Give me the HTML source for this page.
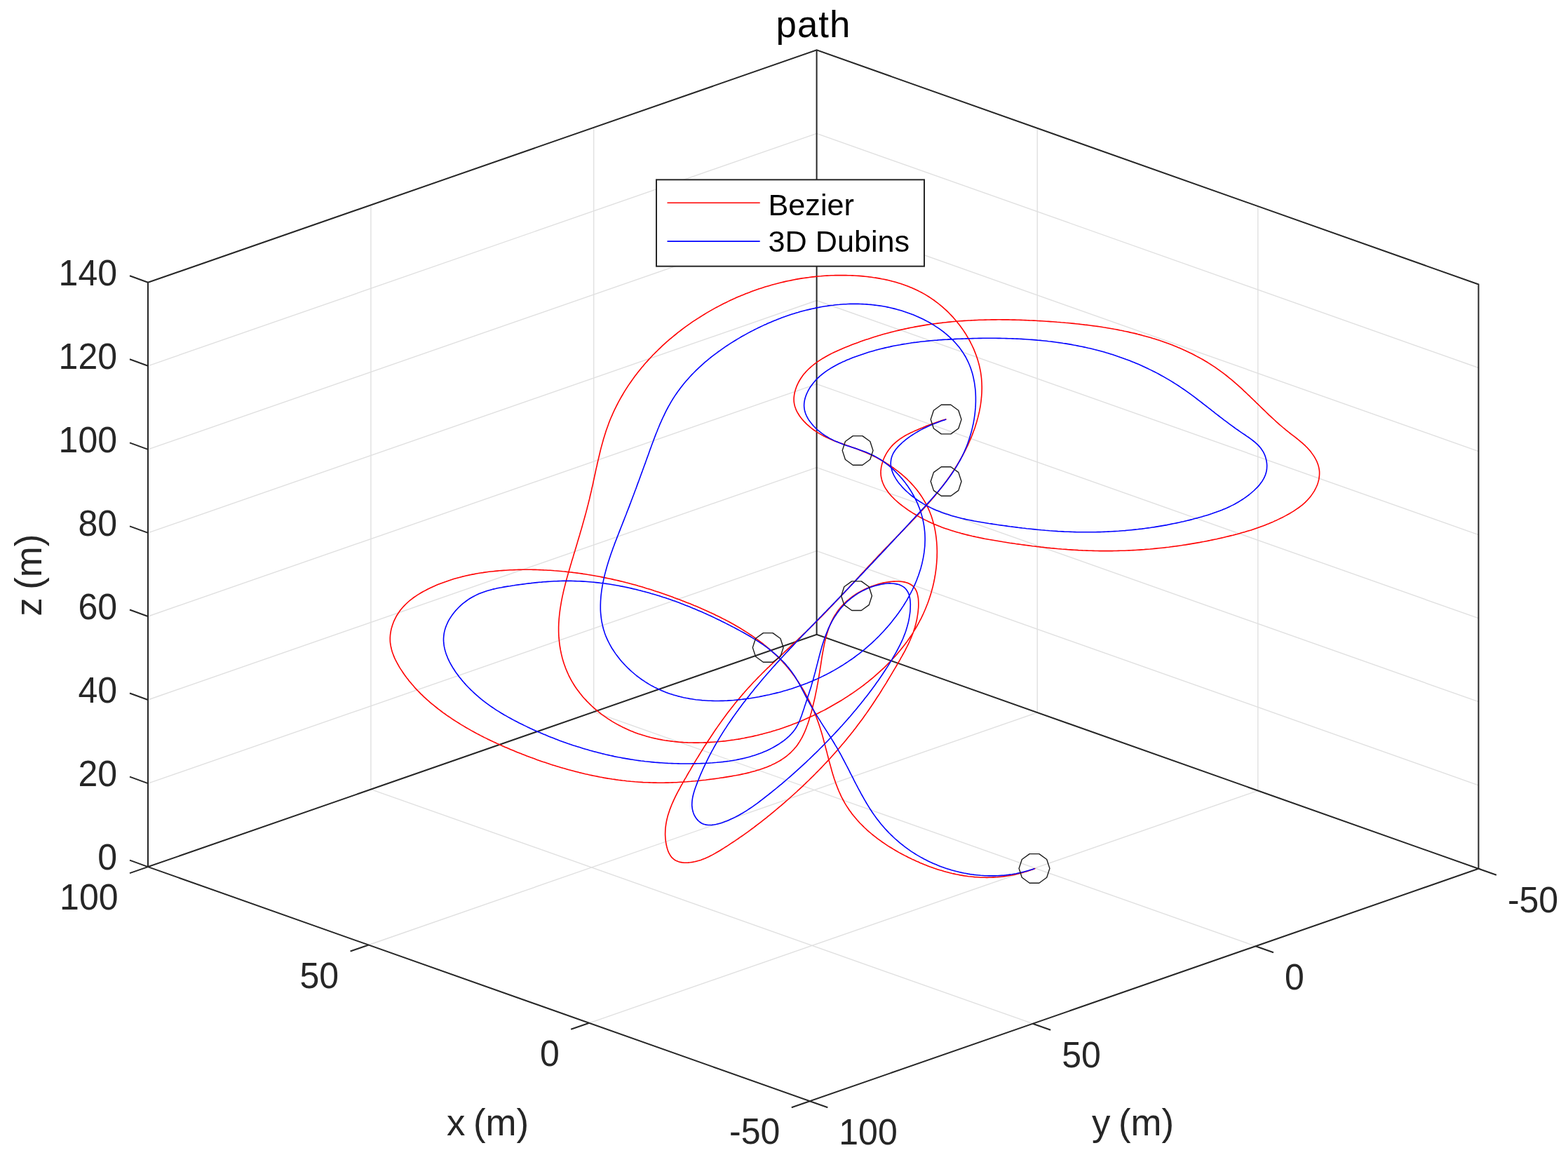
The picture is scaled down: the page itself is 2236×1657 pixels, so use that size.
<!DOCTYPE html>
<html lang="en">
<head>
<meta charset="utf-8">
<title>path</title>
<style>
html,body{margin:0;padding:0;background:#fff;}
body{width:2236px;height:1657px;overflow:hidden;}
svg{display:block;}
text{font-family:"Liberation Sans",Arial,Helvetica,sans-serif;}
.t{font-size:50px;fill:#262626;}
.l{font-size:52.8px;fill:#262626;}
.lg{font-size:43.2px;fill:#000;}
.g{stroke:#e0e0e0;stroke-width:1.4;fill:none;}
.a{stroke:#262626;stroke-width:2;fill:none;stroke-linejoin:miter;}
.r{stroke:#ff0000;stroke-width:1.6;fill:none;stroke-linejoin:round;stroke-linecap:round;}
.b{stroke:#0000ff;stroke-width:1.6;fill:none;stroke-linejoin:round;stroke-linecap:round;}
.m{stroke:#1a1a1a;stroke-width:1.4;fill:none;stroke-linejoin:round;}
</style>
</head>
<body>
<svg xmlns="http://www.w3.org/2000/svg" width="2236" height="1657" viewBox="0 0 2236 1657">
<rect width="2236" height="1657" fill="#fff"/>
<g id="grid"><line class="g" x1="528.9" y1="1125.6" x2="1472.7" y2="1459.7"/><line class="g" x1="528.9" y1="1125.6" x2="528.9" y2="292.3"/><line class="g" x1="846.7" y1="1015.2" x2="1790.5" y2="1349.3"/><line class="g" x1="846.7" y1="1015.2" x2="846.7" y2="181.9"/><line class="g" x1="525.6" y1="1347.5" x2="1479.2" y2="1016.1"/><line class="g" x1="1479.2" y1="1016.1" x2="1479.2" y2="182.8"/><line class="g" x1="840.2" y1="1458.8" x2="1793.8" y2="1127.4"/><line class="g" x1="1793.8" y1="1127.4" x2="1793.8" y2="294.1"/><line class="g" x1="211" y1="1117.1" x2="1164.6" y2="785.7"/><line class="g" x1="1164.6" y1="785.7" x2="2108.4" y2="1119.8"/><line class="g" x1="211" y1="998" x2="1164.6" y2="666.6"/><line class="g" x1="1164.6" y1="666.6" x2="2108.4" y2="1000.7"/><line class="g" x1="211" y1="879" x2="1164.6" y2="547.6"/><line class="g" x1="1164.6" y1="547.6" x2="2108.4" y2="881.7"/><line class="g" x1="211" y1="759.9" x2="1164.6" y2="428.5"/><line class="g" x1="1164.6" y1="428.5" x2="2108.4" y2="762.6"/><line class="g" x1="211" y1="640.9" x2="1164.6" y2="309.5"/><line class="g" x1="1164.6" y1="309.5" x2="2108.4" y2="643.6"/><line class="g" x1="211" y1="521.8" x2="1164.6" y2="190.4"/><line class="g" x1="1164.6" y1="190.4" x2="2108.4" y2="524.5"/></g>
<g id="axes"><polygon class="a" points="211,1236.1 1154.8,1570.2 2108.4,1238.8 1164.6,904.7"/><polyline class="a" points="211,1236.1 211,402.8 1164.6,71.4 2108.4,405.5 2108.4,1238.8"/><line class="a" x1="1164.6" y1="904.7" x2="1164.6" y2="71.4"/><line class="a" x1="211" y1="1236.1" x2="185" y2="1245.1"/><line class="a" x1="525.6" y1="1347.5" x2="499.6" y2="1356.5"/><line class="a" x1="840.2" y1="1458.8" x2="814.2" y2="1467.8"/><line class="a" x1="1154.8" y1="1570.2" x2="1128.8" y2="1579.2"/><line class="a" x1="1154.8" y1="1570.2" x2="1180.3" y2="1579.2"/><line class="a" x1="1472.7" y1="1459.7" x2="1498.2" y2="1468.7"/><line class="a" x1="1790.5" y1="1349.3" x2="1816" y2="1358.3"/><line class="a" x1="2108.4" y1="1238.8" x2="2133.9" y2="1247.8"/><line class="a" x1="211" y1="1236.1" x2="185" y2="1226.6"/><line class="a" x1="211" y1="1117.1" x2="185" y2="1107.6"/><line class="a" x1="211" y1="998" x2="185" y2="988.5"/><line class="a" x1="211" y1="879" x2="185" y2="869.5"/><line class="a" x1="211" y1="759.9" x2="185" y2="750.4"/><line class="a" x1="211" y1="640.9" x2="185" y2="631.4"/><line class="a" x1="211" y1="521.8" x2="185" y2="512.3"/><line class="a" x1="211" y1="402.8" x2="185" y2="393.3"/></g>
<g id="ticklabels"><text class="t" text-anchor="end" transform="translate(167 1240.2) scale(1 1.03)">0</text><text class="t" text-anchor="end" transform="translate(167 1121.2) scale(1 1.03)">20</text><text class="t" text-anchor="end" transform="translate(167 1002.1) scale(1 1.03)">40</text><text class="t" text-anchor="end" transform="translate(167 883.1) scale(1 1.03)">60</text><text class="t" text-anchor="end" transform="translate(167 764) scale(1 1.03)">80</text><text class="t" text-anchor="end" transform="translate(167 645) scale(1 1.03)">100</text><text class="t" text-anchor="end" transform="translate(167 525.9) scale(1 1.03)">120</text><text class="t" text-anchor="end" transform="translate(167 406.9) scale(1 1.03)">140</text><text class="t" text-anchor="end" transform="translate(168.5 1297.2) scale(1 1.03)">100</text><text class="t" text-anchor="end" transform="translate(483.1 1408.6) scale(1 1.03)">50</text><text class="t" text-anchor="end" transform="translate(797.7 1519.9) scale(1 1.03)">0</text><text class="t" text-anchor="end" transform="translate(1112.3 1631.3) scale(1 1.03)">-50</text><text class="t" text-anchor="start" transform="translate(1196.3 1632) scale(1 1.03)">100</text><text class="t" text-anchor="start" transform="translate(1514.2 1521.5) scale(1 1.03)">50</text><text class="t" text-anchor="start" transform="translate(1832 1411.1) scale(1 1.03)">0</text><text class="t" text-anchor="start" transform="translate(2149.9 1300.6) scale(1 1.03)">-50</text></g>
<g id="labels"><text class="l" text-anchor="middle" x="1160" y="52.7" style="fill:#000;letter-spacing:1px">path</text><text class="l" text-anchor="middle" x="695.5" y="1619.4" style="word-spacing:-3px">x (m)</text><text class="l" text-anchor="middle" x="1615.5" y="1619.4" style="word-spacing:-3px">y (m)</text><text class="l" text-anchor="middle" transform="translate(59.3 820.2) rotate(-90)" style="word-spacing:-3px">z (m)</text></g>
<g id="curves"><path class="r" d="M1475.8 1238.6 L1472.8 1239.7 L1469.8 1240.7 L1466.8 1241.8 L1463.9 1242.7 L1460.9 1243.6 L1457.9 1244.5 L1454.9 1245.3 L1451.9 1246.0 L1448.9 1246.7 L1445.9 1247.4 L1443.0 1248.0 L1440.0 1248.5 L1437.0 1249.0 L1434.0 1249.5 L1431.0 1249.9 L1428.1 1250.2 L1425.1 1250.5 L1422.1 1250.8 L1419.2 1251.0 L1416.2 1251.1 L1413.2 1251.3 L1410.3 1251.3 L1407.3 1251.4 L1404.4 1251.3 L1401.4 1251.3 L1398.5 1251.2 L1395.6 1251.0 L1392.6 1250.8 L1389.7 1250.6 L1386.8 1250.3 L1383.8 1250.0 L1380.9 1249.7 L1378.0 1249.3 L1375.1 1248.9 L1372.2 1248.4 L1369.2 1247.9 L1366.3 1247.3 L1363.4 1246.8 L1360.6 1246.1 L1357.7 1245.5 L1354.8 1244.8 L1351.9 1244.0 L1349.0 1243.3 L1346.2 1242.5 L1343.3 1241.6 L1340.4 1240.8 L1337.6 1239.9 L1334.7 1238.9 L1331.9 1238.0 L1329.1 1237.0 L1326.2 1236.0 L1323.4 1234.9 L1320.6 1233.8 L1317.8 1232.7 L1315.0 1231.5 L1312.2 1230.4 L1309.4 1229.1 L1306.6 1227.9 L1303.8 1226.6 L1301.0 1225.4 L1298.3 1224.0 L1295.5 1222.7 L1292.8 1221.3 L1290.0 1219.9 L1287.3 1218.5 L1284.6 1217.0 L1281.9 1215.6 L1279.2 1214.0 L1276.6 1212.5 L1273.9 1210.9 L1271.3 1209.3 L1268.7 1207.7 L1266.1 1206.1 L1263.5 1204.4 L1261.0 1202.7 L1258.5 1201.0 L1256.0 1199.2 L1253.5 1197.4 L1251.0 1195.6 L1248.6 1193.7 L1246.3 1191.9 L1243.9 1190.0 L1241.6 1188.0 L1239.3 1186.1 L1237.0 1184.1 L1234.8 1182.0 L1232.6 1180.0 L1230.5 1177.9 L1228.4 1175.8 L1226.3 1173.7 L1224.3 1171.5 L1222.3 1169.3 L1220.4 1167.1 L1218.5 1164.8 L1216.6 1162.5 L1214.8 1160.2 L1213.1 1157.8 L1211.3 1155.5 L1209.7 1153.0 L1208.1 1150.6 L1206.5 1148.1 L1205.0 1145.6 L1203.6 1143.1 L1202.2 1140.5 L1200.8 1137.9 L1199.5 1135.3 L1198.3 1132.7 L1197.1 1130.0 L1195.9 1127.3 L1194.8 1124.6 L1193.7 1121.8 L1192.7 1119.1 L1191.6 1116.3 L1190.7 1113.5 L1189.7 1110.7 L1188.8 1107.8 L1187.9 1105.0 L1187.0 1102.1 L1186.2 1099.2 L1185.4 1096.3 L1184.6 1093.4 L1183.8 1090.5 L1183.0 1087.6 L1182.2 1084.7 L1181.4 1081.7 L1180.7 1078.8 L1179.9 1075.9 L1179.2 1072.9 L1178.4 1070.0 L1177.6 1067.0 L1176.9 1064.1 L1176.1 1061.1 L1175.3 1058.2 L1174.5 1055.3 L1173.7 1052.3 L1172.9 1049.4 L1172.1 1046.5 L1171.2 1043.6 L1170.3 1040.7 L1169.4 1037.8 L1168.5 1035.0 L1167.5 1032.1 L1166.5 1029.3 L1165.5 1026.4 L1164.4 1023.6 L1163.4 1020.8 L1162.2 1018.1 L1161.1 1015.3 L1160.0 1012.5 L1158.8 1009.8 L1157.5 1007.1 L1156.3 1004.4 L1155.0 1001.7 L1153.7 999.0 L1152.4 996.4 L1151.0 993.8 L1149.6 991.2 L1148.2 988.6 L1146.8 986.0 L1145.3 983.4 L1143.8 980.9 L1142.3 978.4 L1140.7 975.9 L1139.1 973.4 L1137.5 971.0 L1135.8 968.6 L1134.2 966.2 L1132.5 963.8 L1130.7 961.4 L1128.9 959.1 L1127.2 956.8 L1125.3 954.5 L1123.5 952.2 L1121.6 950.0 L1119.7 947.8 L1117.7 945.6 L1115.8 943.5 L1113.8 941.3 L1111.7 939.2 L1109.7 937.1 L1107.6 935.1 L1105.5 933.1 L1103.3 931.1 L1101.1 929.1 L1098.9 927.1 L1096.7 925.2 L1094.5 923.3 L1092.2 921.4 L1089.9 919.6 L1087.6 917.7 L1085.2 915.9 L1082.9 914.1 L1080.5 912.3 L1078.1 910.6 L1075.6 908.9 L1073.2 907.2 L1070.7 905.5 L1068.2 903.8 L1065.7 902.2 L1063.2 900.6 L1060.7 899.0 L1058.1 897.4 L1055.5 895.8 L1052.9 894.3 L1050.3 892.8 L1047.7 891.2 L1045.1 889.8 L1042.4 888.3 L1039.7 886.8 L1037.1 885.4 L1034.4 884.0 L1031.7 882.6 L1028.9 881.2 L1026.2 879.8 L1023.5 878.5 L1020.7 877.2 L1018.0 875.8 L1015.2 874.5 L1012.4 873.3 L1009.7 872.0 L1006.9 870.7 L1004.1 869.5 L1001.3 868.3 L998.5 867.0 L995.7 865.8 L992.9 864.6 L990.0 863.5 L987.2 862.3 L984.4 861.1 L981.6 860.0 L978.7 858.9 L975.9 857.8 L973.1 856.7 L970.2 855.6 L967.4 854.5 L964.6 853.4 L961.7 852.4 L958.9 851.3 L956.0 850.3 L953.2 849.3 L950.3 848.2 L947.5 847.3 L944.6 846.3 L941.8 845.3 L938.9 844.3 L936.1 843.4 L933.2 842.5 L930.4 841.5 L927.5 840.6 L924.6 839.7 L921.8 838.9 L918.9 838.0 L916.0 837.1 L913.1 836.3 L910.3 835.5 L907.4 834.6 L904.5 833.8 L901.6 833.1 L898.7 832.3 L895.9 831.5 L893.0 830.8 L890.1 830.0 L887.2 829.3 L884.3 828.6 L881.4 827.9 L878.5 827.2 L875.6 826.6 L872.7 825.9 L869.8 825.3 L866.9 824.7 L864.0 824.1 L861.1 823.5 L858.1 822.9 L855.2 822.3 L852.3 821.8 L849.4 821.3 L846.5 820.7 L843.5 820.2 L840.6 819.7 L837.7 819.3 L834.7 818.8 L831.8 818.4 L828.9 817.9 L825.9 817.5 L823.0 817.1 L820.0 816.7 L817.1 816.4 L814.1 816.0 L811.2 815.7 L808.2 815.4 L805.2 815.0 L802.3 814.8 L799.3 814.5 L796.4 814.2 L793.4 814.0 L790.4 813.8 L787.4 813.5 L784.5 813.3 L781.5 813.2 L778.5 813.0 L775.5 812.9 L772.5 812.7 L769.5 812.6 L766.5 812.5 L763.5 812.4 L760.5 812.4 L757.5 812.3 L754.5 812.3 L751.5 812.3 L748.5 812.3 L745.5 812.3 L742.5 812.4 L739.5 812.4 L736.5 812.5 L733.4 812.6 L730.4 812.7 L727.4 812.8 L724.4 813.0 L721.4 813.2 L718.3 813.4 L715.3 813.6 L712.3 813.8 L709.3 814.1 L706.3 814.4 L703.3 814.7 L700.3 815.0 L697.3 815.3 L694.3 815.7 L691.3 816.1 L688.3 816.6 L685.3 817.0 L682.3 817.5 L679.3 818.0 L676.3 818.6 L673.4 819.1 L670.4 819.7 L667.5 820.4 L664.5 821.0 L661.6 821.7 L658.7 822.4 L655.8 823.2 L652.9 824.0 L650.0 824.8 L647.1 825.6 L644.2 826.5 L641.3 827.4 L638.5 828.4 L635.6 829.4 L632.8 830.4 L630.0 831.4 L627.2 832.5 L624.4 833.6 L621.6 834.8 L618.9 836.0 L616.1 837.2 L613.4 838.5 L610.7 839.8 L608.0 841.2 L605.3 842.6 L602.7 844.0 L600.1 845.5 L597.5 847.1 L595.0 848.7 L592.5 850.3 L590.0 852.0 L587.6 853.8 L585.3 855.6 L583.0 857.5 L580.8 859.5 L578.7 861.5 L576.6 863.6 L574.6 865.8 L572.7 868.0 L570.8 870.3 L569.1 872.7 L567.4 875.2 L565.8 877.7 L564.4 880.4 L563.0 883.1 L561.7 885.8 L560.6 888.7 L559.6 891.5 L558.7 894.4 L557.9 897.3 L557.3 900.3 L556.8 903.3 L556.5 906.2 L556.3 909.2 L556.3 912.1 L556.4 915.1 L556.7 918.0 L557.2 920.9 L557.8 923.8 L558.5 926.6 L559.3 929.5 L560.3 932.3 L561.4 935.1 L562.5 937.9 L563.8 940.6 L565.2 943.3 L566.6 946.0 L568.1 948.7 L569.6 951.3 L571.2 953.9 L572.9 956.4 L574.6 959.0 L576.3 961.5 L578.1 963.9 L579.9 966.4 L581.8 968.8 L583.6 971.2 L585.6 973.5 L587.5 975.8 L589.5 978.1 L591.5 980.4 L593.5 982.6 L595.6 984.8 L597.7 986.9 L599.8 989.1 L602.0 991.2 L604.2 993.3 L606.4 995.3 L608.6 997.4 L610.9 999.4 L613.1 1001.4 L615.4 1003.3 L617.8 1005.2 L620.1 1007.1 L622.5 1009.0 L624.8 1010.9 L627.2 1012.7 L629.6 1014.5 L632.0 1016.3 L634.5 1018.0 L636.9 1019.8 L639.4 1021.5 L641.9 1023.2 L644.3 1024.8 L646.8 1026.5 L649.3 1028.1 L651.8 1029.7 L654.4 1031.3 L656.9 1032.9 L659.4 1034.4 L662.0 1035.9 L664.6 1037.5 L667.1 1038.9 L669.7 1040.4 L672.3 1041.9 L674.9 1043.3 L677.5 1044.7 L680.1 1046.1 L682.8 1047.5 L685.4 1048.9 L688.0 1050.2 L690.7 1051.6 L693.4 1052.9 L696.0 1054.2 L698.7 1055.5 L701.4 1056.8 L704.1 1058.1 L706.8 1059.3 L709.5 1060.6 L712.2 1061.8 L715.0 1063.0 L717.7 1064.2 L720.4 1065.4 L723.2 1066.6 L725.9 1067.8 L728.7 1069.0 L731.5 1070.1 L734.3 1071.3 L737.0 1072.4 L739.8 1073.5 L742.6 1074.6 L745.4 1075.7 L748.3 1076.8 L751.1 1077.9 L753.9 1079.0 L756.7 1080.1 L759.6 1081.1 L762.4 1082.1 L765.2 1083.2 L768.1 1084.2 L770.9 1085.2 L773.8 1086.2 L776.7 1087.1 L779.5 1088.1 L782.4 1089.0 L785.3 1090.0 L788.2 1090.9 L791.1 1091.8 L794.0 1092.7 L796.9 1093.6 L799.8 1094.4 L802.7 1095.3 L805.6 1096.1 L808.5 1096.9 L811.4 1097.8 L814.3 1098.5 L817.2 1099.3 L820.1 1100.1 L823.1 1100.8 L826.0 1101.6 L828.9 1102.3 L831.9 1103.0 L834.8 1103.7 L837.7 1104.3 L840.7 1105.0 L843.6 1105.6 L846.5 1106.2 L849.5 1106.8 L852.4 1107.4 L855.4 1108.0 L858.3 1108.5 L861.3 1109.1 L864.2 1109.6 L867.2 1110.1 L870.1 1110.5 L873.1 1111.0 L876.0 1111.4 L879.0 1111.9 L881.9 1112.3 L884.9 1112.6 L887.8 1113.0 L890.8 1113.3 L893.7 1113.7 L896.6 1114.0 L899.6 1114.3 L902.5 1114.5 L905.5 1114.8 L908.4 1115.0 L911.4 1115.2 L914.3 1115.4 L917.2 1115.6 L920.2 1115.7 L923.1 1115.8 L926.1 1115.9 L929.0 1116.0 L931.9 1116.1 L934.9 1116.1 L937.8 1116.2 L940.8 1116.2 L943.7 1116.2 L946.7 1116.2 L949.6 1116.1 L952.6 1116.1 L955.5 1116.0 L958.5 1115.9 L961.4 1115.8 L964.4 1115.7 L967.4 1115.5 L970.3 1115.3 L973.3 1115.2 L976.3 1115.0 L979.2 1114.8 L982.2 1114.5 L985.2 1114.3 L988.2 1114.0 L991.2 1113.8 L994.2 1113.5 L997.2 1113.2 L1000.2 1112.8 L1003.2 1112.5 L1006.3 1112.2 L1009.3 1111.8 L1012.3 1111.4 L1015.4 1111.0 L1018.4 1110.6 L1021.5 1110.2 L1024.5 1109.8 L1027.6 1109.3 L1030.7 1108.9 L1033.8 1108.4 L1036.8 1107.9 L1039.9 1107.4 L1043.0 1106.9 L1046.1 1106.3 L1049.2 1105.8 L1052.3 1105.2 L1055.4 1104.6 L1058.5 1103.9 L1061.5 1103.3 L1064.6 1102.6 L1067.6 1101.9 L1070.6 1101.1 L1073.6 1100.3 L1076.6 1099.5 L1079.5 1098.6 L1082.4 1097.7 L1085.3 1096.8 L1088.2 1095.8 L1091.0 1094.7 L1093.8 1093.7 L1096.6 1092.5 L1099.3 1091.4 L1101.9 1090.1 L1104.6 1088.9 L1107.2 1087.5 L1109.7 1086.1 L1112.2 1084.7 L1114.6 1083.2 L1117.0 1081.6 L1119.3 1080.0 L1121.5 1078.3 L1123.7 1076.5 L1125.9 1074.7 L1127.9 1072.8 L1129.9 1070.8 L1131.8 1068.8 L1133.7 1066.6 L1135.5 1064.5 L1137.2 1062.2 L1138.8 1059.8 L1140.4 1057.4 L1141.8 1054.9 L1143.3 1052.4 L1144.6 1049.8 L1145.9 1047.1 L1147.2 1044.4 L1148.3 1041.7 L1149.5 1038.9 L1150.5 1036.1 L1151.6 1033.2 L1152.6 1030.3 L1153.5 1027.4 L1154.4 1024.5 L1155.3 1021.6 L1156.1 1018.6 L1157.0 1015.7 L1157.7 1012.7 L1158.5 1009.8 L1159.2 1006.8 L1159.9 1003.9 L1160.6 1000.9 L1161.3 998.0 L1162.0 995.0 L1162.6 992.1 L1163.2 989.2 L1163.8 986.2 L1164.4 983.3 L1165.0 980.4 L1165.5 977.4 L1166.1 974.5 L1166.6 971.5 L1167.1 968.6 L1167.6 965.6 L1168.1 962.7 L1168.6 959.7 L1169.1 956.8 L1169.5 953.8 L1170.0 950.8 L1170.5 947.8 L1170.9 944.9 L1171.4 941.9 L1171.8 938.9 L1172.3 935.9 L1172.8 933.0 L1173.3 930.0 L1173.9 927.1 L1174.4 924.1 L1175.0 921.2 L1175.6 918.3 L1176.2 915.4 L1176.9 912.5 L1177.6 909.6 L1178.4 906.8 L1179.2 904.0 L1180.1 901.2 L1181.0 898.4 L1181.9 895.7 L1183.0 893.0 L1184.1 890.3 L1185.2 887.7 L1186.4 885.1 L1187.7 882.5 L1189.1 880.0 L1190.5 877.5 L1192.1 875.1 L1193.7 872.7 L1195.4 870.3 L1197.2 868.0 L1199.1 865.7 L1201.0 863.5 L1203.1 861.4 L1205.2 859.3 L1207.5 857.2 L1209.8 855.3 L1212.1 853.3 L1214.6 851.5 L1217.1 849.7 L1219.6 847.9 L1222.2 846.2 L1224.9 844.6 L1227.6 843.1 L1230.4 841.6 L1233.2 840.2 L1236.0 838.9 L1238.9 837.7 L1241.8 836.5 L1244.8 835.4 L1247.8 834.4 L1250.7 833.4 L1253.8 832.6 L1256.8 831.8 L1259.8 831.1 L1262.8 830.5 L1265.9 830.0 L1268.9 829.6 L1272.0 829.3 L1275.0 829.1 L1277.9 829.0 L1280.9 829.0 L1283.7 829.2 L1286.5 829.5 L1289.2 829.9 L1291.7 830.5 L1294.2 831.3 L1296.5 832.3 L1298.6 833.5 L1300.6 834.9 L1302.5 836.4 L1304.1 838.3 L1305.5 840.3 L1306.7 842.6 L1307.7 845.1 L1308.4 847.8 L1309.0 850.6 L1309.5 853.6 L1309.7 856.7 L1309.8 859.9 L1309.8 863.2 L1309.7 866.5 L1309.4 869.8 L1309.1 873.1 L1308.6 876.3 L1308.1 879.5 L1307.6 882.6 L1306.9 885.7 L1306.2 888.7 L1305.4 891.7 L1304.6 894.7 L1303.6 897.6 L1302.7 900.5 L1301.7 903.4 L1300.6 906.2 L1299.5 909.0 L1298.3 911.7 L1297.1 914.5 L1295.9 917.2 L1294.6 919.9 L1293.3 922.5 L1291.9 925.2 L1290.6 927.8 L1289.2 930.4 L1287.7 933.0 L1286.3 935.6 L1284.8 938.2 L1283.4 940.8 L1281.9 943.4 L1280.4 945.9 L1278.9 948.5 L1277.4 951.1 L1275.9 953.6 L1274.4 956.2 L1272.9 958.7 L1271.3 961.3 L1269.8 963.9 L1268.3 966.4 L1266.7 969.0 L1265.2 971.5 L1263.7 974.1 L1262.1 976.6 L1260.5 979.1 L1258.9 981.7 L1257.4 984.2 L1255.8 986.7 L1254.2 989.3 L1252.6 991.8 L1250.9 994.3 L1249.3 996.8 L1247.7 999.3 L1246.0 1001.8 L1244.4 1004.3 L1242.7 1006.8 L1241.0 1009.2 L1239.3 1011.7 L1237.6 1014.2 L1235.9 1016.6 L1234.2 1019.1 L1232.4 1021.5 L1230.7 1024.0 L1228.9 1026.4 L1227.1 1028.8 L1225.3 1031.2 L1223.5 1033.6 L1221.7 1036.0 L1219.9 1038.4 L1218.0 1040.8 L1216.2 1043.2 L1214.3 1045.5 L1212.4 1047.9 L1210.5 1050.2 L1208.6 1052.6 L1206.7 1054.9 L1204.8 1057.2 L1202.9 1059.5 L1200.9 1061.8 L1199.0 1064.1 L1197.0 1066.4 L1195.0 1068.7 L1193.0 1071.0 L1191.0 1073.2 L1189.0 1075.5 L1187.0 1077.7 L1185.0 1080.0 L1183.0 1082.2 L1180.9 1084.4 L1178.9 1086.6 L1176.8 1088.8 L1174.7 1091.0 L1172.6 1093.2 L1170.6 1095.4 L1168.5 1097.5 L1166.4 1099.7 L1164.2 1101.8 L1162.1 1104.0 L1160.0 1106.1 L1157.9 1108.2 L1155.7 1110.3 L1153.6 1112.5 L1151.4 1114.5 L1149.2 1116.6 L1147.1 1118.7 L1144.9 1120.8 L1142.7 1122.8 L1140.5 1124.9 L1138.3 1126.9 L1136.1 1129.0 L1133.9 1131.0 L1131.7 1133.0 L1129.5 1135.0 L1127.2 1137.0 L1125.0 1139.0 L1122.8 1141.0 L1120.5 1142.9 L1118.3 1144.9 L1116.0 1146.8 L1113.7 1148.8 L1111.5 1150.7 L1109.2 1152.6 L1106.9 1154.5 L1104.7 1156.4 L1102.4 1158.3 L1100.1 1160.2 L1097.8 1162.1 L1095.5 1163.9 L1093.2 1165.8 L1090.9 1167.6 L1088.6 1169.4 L1086.2 1171.3 L1083.9 1173.1 L1081.6 1174.9 L1079.2 1176.7 L1076.8 1178.5 L1074.5 1180.3 L1072.1 1182.0 L1069.7 1183.8 L1067.3 1185.6 L1064.9 1187.3 L1062.4 1189.1 L1060.0 1190.8 L1057.6 1192.5 L1055.1 1194.2 L1052.6 1196.0 L1050.1 1197.7 L1047.6 1199.4 L1045.1 1201.0 L1042.5 1202.7 L1040.0 1204.4 L1037.4 1206.1 L1034.8 1207.7 L1032.2 1209.4 L1029.6 1211.0 L1026.9 1212.7 L1024.3 1214.3 L1021.6 1215.8 L1018.9 1217.4 L1016.2 1218.9 L1013.4 1220.3 L1010.6 1221.7 L1007.8 1223.0 L1005.0 1224.2 L1002.2 1225.3 L999.3 1226.4 L996.4 1227.3 L993.5 1228.1 L990.5 1228.8 L987.5 1229.4 L984.5 1229.8 L981.4 1230.1 L978.4 1230.2 L975.5 1230.2 L972.6 1229.9 L969.8 1229.4 L967.1 1228.6 L964.6 1227.6 L962.2 1226.3 L960.1 1224.7 L958.2 1222.9 L956.5 1220.7 L955.0 1218.4 L953.7 1215.8 L952.5 1213.1 L951.6 1210.3 L950.8 1207.3 L950.1 1204.3 L949.6 1201.3 L949.2 1198.3 L948.9 1195.3 L948.7 1192.3 L948.6 1189.3 L948.7 1186.4 L948.8 1183.4 L949.0 1180.5 L949.4 1177.6 L949.8 1174.7 L950.3 1171.9 L950.9 1169.0 L951.6 1166.1 L952.3 1163.3 L953.2 1160.5 L954.1 1157.7 L955.0 1154.9 L956.1 1152.1 L957.2 1149.3 L958.3 1146.5 L959.5 1143.8 L960.7 1141.1 L962.0 1138.3 L963.3 1135.6 L964.7 1132.9 L966.1 1130.2 L967.5 1127.5 L969.0 1124.8 L970.4 1122.1 L971.9 1119.4 L973.4 1116.8 L974.9 1114.1 L976.4 1111.4 L978.0 1108.8 L979.5 1106.1 L981.0 1103.5 L982.5 1100.9 L984.1 1098.3 L985.6 1095.6 L987.1 1093.0 L988.7 1090.4 L990.2 1087.8 L991.8 1085.2 L993.3 1082.6 L994.9 1080.1 L996.5 1077.5 L998.1 1074.9 L999.6 1072.4 L1001.2 1069.8 L1002.8 1067.3 L1004.4 1064.7 L1006.0 1062.2 L1007.7 1059.7 L1009.3 1057.2 L1010.9 1054.7 L1012.6 1052.2 L1014.2 1049.7 L1015.9 1047.2 L1017.5 1044.7 L1019.2 1042.3 L1020.9 1039.8 L1022.6 1037.4 L1024.3 1034.9 L1026.0 1032.5 L1027.7 1030.1 L1029.4 1027.7 L1031.2 1025.3 L1032.9 1022.9 L1034.7 1020.5 L1036.5 1018.1 L1038.2 1015.8 L1040.0 1013.4 L1041.9 1011.1 L1043.7 1008.7 L1045.5 1006.4 L1047.4 1004.1 L1049.2 1001.8 L1051.1 999.5 L1053.0 997.2 L1054.9 994.9 L1056.8 992.7 L1058.7 990.4 L1060.7 988.2 L1062.6 986.0 L1064.6 983.8 L1066.6 981.5 L1068.6 979.4 L1070.6 977.2 L1072.6 975.0 L1074.6 972.8 L1076.7 970.7 L1078.8 968.5 L1080.8 966.4 L1082.9 964.3 L1085.0 962.2 L1087.1 960.0 L1089.3 957.9 L1091.4 955.8 L1093.5 953.7 L1095.7 951.7 L1097.8 949.6 L1100.0 947.5 L1102.2 945.4 L1104.3 943.4 L1106.5 941.3 L1108.7 939.2 L1110.9 937.2 L1113.1 935.1 L1115.3 933.1 L1117.5 931.0 L1119.7 928.9 L1121.9 926.9 L1124.1 924.8 L1126.3 922.8 L1128.5 920.7 L1130.7 918.7 L1132.9 916.6 L1135.1 914.5 L1137.3 912.5 L1139.5 910.4 L1141.7 908.3 L1143.8 906.3 L1146.0 904.2 L1148.2 902.1 L1150.4 900.0 L1152.5 897.9 L1154.7 895.8 L1156.9 893.7 L1159.0 891.6 L1161.1 889.5 L1163.3 887.3 L1165.4 885.2 L1167.5 883.1 L1169.6 880.9 L1171.8 878.8 L1173.9 876.6 L1176.0 874.5 L1178.1 872.3 L1180.1 870.1 L1182.2 868.0 L1184.3 865.8 L1186.4 863.6 L1188.5 861.4 L1190.5 859.2 L1192.6 857.1 L1194.7 854.9 L1196.7 852.7 L1198.8 850.5 L1200.9 848.3 L1202.9 846.1 L1205.0 843.9 L1207.0 841.7 L1209.1 839.5 L1211.1 837.3 L1213.1 835.1 L1215.2 832.9 L1217.2 830.7 L1219.3 828.5 L1221.3 826.3 L1223.3 824.0 L1225.4 821.8 L1227.4 819.6 L1229.5 817.4 L1231.5 815.2 L1233.5 813.0 L1235.6 810.8 L1237.6 808.6 L1239.7 806.4 L1241.7 804.2 L1243.8 802.1 L1245.8 799.9 L1247.8 797.7 L1249.9 795.5 L1251.9 793.3 L1254.0 791.1 L1256.1 789.0 L1258.1 786.8 L1260.2 784.6 L1262.2 782.5 L1264.3 780.3 L1266.4 778.2 L1268.5 776.0 L1270.5 773.9 L1272.6 771.7 L1274.7 769.6 L1276.8 767.5 L1278.9 765.3 L1280.9 763.2 L1283.0 761.1 L1285.1 758.9 L1287.2 756.8 L1289.3 754.7 L1291.3 752.5 L1293.4 750.4 L1295.5 748.3 L1297.6 746.1 L1299.6 744.0 L1301.7 741.8 L1303.7 739.7 L1305.8 737.5 L1307.8 735.3 L1309.9 733.2 L1311.9 731.0 L1313.9 728.8 L1315.9 726.6 L1317.9 724.4 L1319.9 722.2 L1321.9 720.0 L1323.9 717.7 L1325.8 715.5 L1327.8 713.2 L1329.7 711.0 L1331.7 708.7 L1333.6 706.4 L1335.5 704.1 L1337.4 701.8 L1339.2 699.4 L1341.1 697.1 L1342.9 694.7 L1344.8 692.3 L1346.6 689.9 L1348.4 687.5 L1350.2 685.1 L1351.9 682.6 L1353.7 680.2 L1355.4 677.7 L1357.1 675.2 L1358.8 672.6 L1360.5 670.1 L1362.1 667.5 L1363.7 664.9 L1365.3 662.3 L1366.9 659.7 L1368.5 657.0 L1370.0 654.4 L1371.5 651.7 L1373.0 649.0 L1374.4 646.3 L1375.8 643.6 L1377.2 640.8 L1378.5 638.1 L1379.9 635.3 L1381.2 632.5 L1382.4 629.7 L1383.6 626.9 L1384.8 624.1 L1386.0 621.3 L1387.1 618.4 L1388.1 615.6 L1389.2 612.7 L1390.2 609.9 L1391.1 607.0 L1392.0 604.1 L1392.9 601.2 L1393.7 598.3 L1394.5 595.4 L1395.2 592.5 L1395.9 589.6 L1396.6 586.7 L1397.1 583.8 L1397.7 580.8 L1398.2 577.9 L1398.6 575.0 L1399.0 572.1 L1399.3 569.1 L1399.6 566.2 L1399.8 563.3 L1400.0 560.4 L1400.1 557.4 L1400.2 554.5 L1400.2 551.6 L1400.1 548.7 L1400.0 545.7 L1399.8 542.8 L1399.6 539.9 L1399.3 537.0 L1398.9 534.1 L1398.5 531.2 L1398.0 528.4 L1397.4 525.5 L1396.8 522.6 L1396.1 519.8 L1395.3 516.9 L1394.5 514.1 L1393.6 511.3 L1392.7 508.5 L1391.7 505.7 L1390.6 502.9 L1389.5 500.1 L1388.4 497.4 L1387.1 494.7 L1385.9 492.0 L1384.5 489.3 L1383.2 486.6 L1381.7 484.0 L1380.2 481.4 L1378.7 478.8 L1377.1 476.2 L1375.5 473.7 L1373.8 471.1 L1372.1 468.7 L1370.3 466.2 L1368.5 463.8 L1366.6 461.4 L1364.7 459.0 L1362.8 456.7 L1360.8 454.4 L1358.8 452.1 L1356.7 449.9 L1354.6 447.7 L1352.5 445.5 L1350.3 443.4 L1348.1 441.3 L1345.8 439.3 L1343.6 437.3 L1341.2 435.4 L1338.9 433.5 L1336.5 431.6 L1334.1 429.8 L1331.7 428.0 L1329.2 426.3 L1326.7 424.6 L1324.2 423.0 L1321.6 421.4 L1319.1 419.9 L1316.5 418.4 L1313.9 417.0 L1311.2 415.6 L1308.5 414.3 L1305.9 413.0 L1303.1 411.7 L1300.4 410.5 L1297.7 409.4 L1294.9 408.3 L1292.1 407.2 L1289.3 406.2 L1286.5 405.2 L1283.6 404.3 L1280.8 403.4 L1277.9 402.5 L1275.0 401.7 L1272.1 401.0 L1269.2 400.2 L1266.3 399.5 L1263.4 398.9 L1260.4 398.2 L1257.5 397.7 L1254.5 397.1 L1251.6 396.6 L1248.6 396.1 L1245.6 395.7 L1242.6 395.2 L1239.6 394.9 L1236.6 394.5 L1233.6 394.2 L1230.6 393.9 L1227.6 393.6 L1224.5 393.4 L1221.5 393.2 L1218.5 393.0 L1215.5 392.9 L1212.5 392.8 L1209.4 392.7 L1206.4 392.6 L1203.4 392.6 L1200.4 392.5 L1197.4 392.6 L1194.4 392.6 L1191.3 392.6 L1188.3 392.7 L1185.3 392.8 L1182.3 393.0 L1179.3 393.1 L1176.3 393.3 L1173.3 393.5 L1170.4 393.8 L1167.4 394.0 L1164.4 394.3 L1161.4 394.6 L1158.4 394.9 L1155.5 395.3 L1152.5 395.7 L1149.5 396.1 L1146.6 396.5 L1143.6 396.9 L1140.6 397.4 L1137.7 397.9 L1134.8 398.4 L1131.8 399.0 L1128.9 399.6 L1126.0 400.2 L1123.0 400.8 L1120.1 401.4 L1117.2 402.1 L1114.3 402.8 L1111.4 403.5 L1108.5 404.2 L1105.6 405.0 L1102.7 405.7 L1099.8 406.6 L1097.0 407.4 L1094.1 408.2 L1091.2 409.1 L1088.4 410.0 L1085.5 410.9 L1082.7 411.8 L1079.9 412.8 L1077.1 413.8 L1074.2 414.8 L1071.4 415.8 L1068.6 416.9 L1065.8 417.9 L1063.0 419.0 L1060.3 420.2 L1057.5 421.3 L1054.7 422.4 L1052.0 423.6 L1049.2 424.8 L1046.5 426.1 L1043.8 427.3 L1041.0 428.6 L1038.3 429.9 L1035.6 431.2 L1032.9 432.5 L1030.3 433.8 L1027.6 435.2 L1024.9 436.6 L1022.3 438.0 L1019.6 439.4 L1017.0 440.9 L1014.4 442.4 L1011.7 443.9 L1009.1 445.4 L1006.6 446.9 L1004.0 448.5 L1001.4 450.1 L998.8 451.7 L996.3 453.3 L993.8 454.9 L991.2 456.6 L988.7 458.2 L986.2 459.9 L983.8 461.7 L981.3 463.4 L978.8 465.1 L976.4 466.9 L974.0 468.7 L971.6 470.5 L969.2 472.4 L966.8 474.2 L964.5 476.1 L962.1 478.0 L959.8 479.9 L957.5 481.8 L955.2 483.7 L952.9 485.7 L950.6 487.7 L948.4 489.7 L946.2 491.7 L944.0 493.7 L941.8 495.8 L939.6 497.9 L937.5 500.0 L935.3 502.1 L933.2 504.2 L931.1 506.3 L929.1 508.5 L927.0 510.7 L925.0 512.9 L923.0 515.1 L921.0 517.3 L919.0 519.6 L917.1 521.9 L915.2 524.1 L913.3 526.4 L911.4 528.8 L909.6 531.1 L907.7 533.4 L905.9 535.8 L904.1 538.2 L902.4 540.6 L900.7 543.0 L899.0 545.5 L897.3 547.9 L895.6 550.4 L894.0 552.9 L892.4 555.4 L890.8 557.9 L889.3 560.4 L887.8 563.0 L886.3 565.5 L884.8 568.1 L883.4 570.7 L881.9 573.3 L880.6 576.0 L879.2 578.6 L877.9 581.3 L876.6 583.9 L875.3 586.6 L874.1 589.3 L872.9 592.1 L871.7 594.8 L870.5 597.5 L869.4 600.3 L868.3 603.1 L867.3 605.9 L866.3 608.7 L865.3 611.5 L864.3 614.3 L863.4 617.2 L862.5 620.1 L861.6 622.9 L860.7 625.8 L859.9 628.7 L859.1 631.6 L858.3 634.5 L857.5 637.4 L856.7 640.4 L856.0 643.3 L855.3 646.2 L854.6 649.2 L853.9 652.1 L853.2 655.1 L852.5 658.0 L851.8 661.0 L851.2 664.0 L850.5 666.9 L849.8 669.9 L849.2 672.9 L848.6 675.8 L847.9 678.8 L847.3 681.8 L846.6 684.7 L846.0 687.7 L845.4 690.6 L844.7 693.6 L844.0 696.5 L843.4 699.5 L842.7 702.4 L842.0 705.3 L841.3 708.3 L840.7 711.2 L839.9 714.1 L839.2 717.0 L838.5 719.9 L837.7 722.8 L837.0 725.7 L836.2 728.6 L835.5 731.4 L834.7 734.3 L833.9 737.2 L833.1 740.0 L832.3 742.9 L831.5 745.8 L830.7 748.6 L829.9 751.5 L829.1 754.3 L828.2 757.2 L827.4 760.0 L826.6 762.9 L825.7 765.7 L824.9 768.6 L824.0 771.4 L823.2 774.3 L822.3 777.2 L821.5 780.0 L820.6 782.9 L819.8 785.8 L818.9 788.6 L818.0 791.5 L817.2 794.4 L816.3 797.3 L815.4 800.1 L814.6 803.0 L813.7 805.9 L812.9 808.8 L812.0 811.7 L811.2 814.7 L810.3 817.6 L809.5 820.5 L808.7 823.4 L807.9 826.3 L807.1 829.3 L806.3 832.2 L805.6 835.1 L804.8 838.1 L804.1 841.0 L803.4 844.0 L802.8 846.9 L802.1 849.9 L801.5 852.8 L800.9 855.8 L800.4 858.7 L799.9 861.7 L799.4 864.7 L798.9 867.6 L798.5 870.6 L798.1 873.6 L797.8 876.5 L797.5 879.5 L797.2 882.5 L797.0 885.4 L796.8 888.4 L796.7 891.4 L796.6 894.4 L796.6 897.3 L796.6 900.3 L796.7 903.3 L796.8 906.2 L797.0 909.2 L797.3 912.2 L797.6 915.1 L797.9 918.1 L798.3 921.0 L798.8 924.0 L799.3 926.9 L799.9 929.8 L800.5 932.7 L801.2 935.6 L801.9 938.5 L802.7 941.3 L803.6 944.2 L804.5 947.0 L805.5 949.8 L806.5 952.6 L807.6 955.3 L808.8 958.1 L810.0 960.8 L811.2 963.5 L812.6 966.1 L814.0 968.8 L815.4 971.4 L816.9 973.9 L818.5 976.5 L820.1 979.0 L821.8 981.5 L823.6 983.9 L825.4 986.3 L827.2 988.7 L829.1 991.1 L831.0 993.4 L833.0 995.7 L835.1 997.9 L837.1 1000.1 L839.3 1002.3 L841.4 1004.4 L843.6 1006.5 L845.9 1008.6 L848.2 1010.6 L850.5 1012.6 L852.8 1014.5 L855.2 1016.4 L857.6 1018.3 L860.1 1020.1 L862.6 1021.9 L865.1 1023.6 L867.6 1025.3 L870.1 1026.9 L872.7 1028.6 L875.3 1030.1 L877.9 1031.6 L880.6 1033.1 L883.2 1034.5 L885.9 1035.9 L888.6 1037.3 L891.3 1038.5 L894.0 1039.8 L896.7 1041.0 L899.5 1042.2 L902.3 1043.3 L905.0 1044.4 L907.8 1045.4 L910.6 1046.4 L913.4 1047.3 L916.3 1048.2 L919.1 1049.1 L921.9 1049.9 L924.8 1050.7 L927.7 1051.5 L930.5 1052.2 L933.4 1052.9 L936.3 1053.5 L939.2 1054.1 L942.1 1054.6 L945.1 1055.2 L948.0 1055.7 L950.9 1056.1 L953.9 1056.5 L956.8 1056.9 L959.8 1057.3 L962.8 1057.6 L965.7 1057.9 L968.7 1058.2 L971.7 1058.4 L974.7 1058.6 L977.6 1058.7 L980.6 1058.9 L983.6 1059.0 L986.6 1059.0 L989.6 1059.1 L992.6 1059.1 L995.6 1059.1 L998.6 1059.0 L1001.6 1059.0 L1004.6 1058.9 L1007.6 1058.8 L1010.6 1058.6 L1013.6 1058.4 L1016.6 1058.2 L1019.6 1058.0 L1022.6 1057.8 L1025.6 1057.5 L1028.6 1057.2 L1031.6 1056.9 L1034.6 1056.6 L1037.6 1056.2 L1040.5 1055.8 L1043.5 1055.4 L1046.5 1055.0 L1049.4 1054.5 L1052.4 1054.1 L1055.4 1053.6 L1058.3 1053.0 L1061.3 1052.5 L1064.2 1051.9 L1067.2 1051.3 L1070.1 1050.7 L1073.1 1050.1 L1076.0 1049.4 L1078.9 1048.8 L1081.8 1048.1 L1084.8 1047.3 L1087.7 1046.6 L1090.6 1045.8 L1093.5 1045.0 L1096.4 1044.2 L1099.3 1043.4 L1102.1 1042.5 L1105.0 1041.7 L1107.9 1040.8 L1110.8 1039.9 L1113.6 1038.9 L1116.5 1038.0 L1119.3 1037.0 L1122.1 1036.0 L1125.0 1034.9 L1127.8 1033.9 L1130.6 1032.8 L1133.4 1031.8 L1136.2 1030.7 L1139.0 1029.5 L1141.8 1028.4 L1144.6 1027.2 L1147.3 1026.0 L1150.1 1024.8 L1152.8 1023.6 L1155.6 1022.3 L1158.3 1021.1 L1161.0 1019.8 L1163.7 1018.5 L1166.4 1017.2 L1169.1 1015.8 L1171.8 1014.4 L1174.5 1013.1 L1177.2 1011.7 L1179.8 1010.2 L1182.5 1008.8 L1185.1 1007.3 L1187.7 1005.8 L1190.3 1004.3 L1192.9 1002.8 L1195.5 1001.3 L1198.1 999.7 L1200.7 998.2 L1203.2 996.6 L1205.8 994.9 L1208.3 993.3 L1210.8 991.7 L1213.3 990.0 L1215.8 988.3 L1218.3 986.6 L1220.8 984.9 L1223.2 983.1 L1225.7 981.4 L1228.1 979.6 L1230.5 977.8 L1232.9 976.0 L1235.2 974.1 L1237.6 972.3 L1239.9 970.4 L1242.3 968.5 L1244.6 966.6 L1246.9 964.7 L1249.1 962.7 L1251.4 960.7 L1253.6 958.7 L1255.8 956.7 L1258.0 954.7 L1260.2 952.7 L1262.3 950.6 L1264.4 948.5 L1266.5 946.4 L1268.6 944.3 L1270.7 942.1 L1272.7 940.0 L1274.7 937.8 L1276.7 935.6 L1278.6 933.4 L1280.6 931.1 L1282.5 928.8 L1284.4 926.6 L1286.2 924.3 L1288.0 921.9 L1289.9 919.6 L1291.6 917.2 L1293.4 914.9 L1295.1 912.5 L1296.8 910.0 L1298.4 907.6 L1300.1 905.1 L1301.7 902.6 L1303.2 900.1 L1304.8 897.6 L1306.3 895.1 L1307.8 892.5 L1309.2 889.9 L1310.6 887.3 L1312.0 884.7 L1313.4 882.1 L1314.7 879.4 L1316.0 876.7 L1317.2 874.0 L1318.4 871.3 L1319.6 868.5 L1320.7 865.8 L1321.8 863.0 L1322.9 860.2 L1323.9 857.4 L1324.9 854.5 L1325.9 851.6 L1326.8 848.7 L1327.7 845.8 L1328.5 842.9 L1329.3 840.0 L1330.1 837.0 L1330.8 834.0 L1331.5 831.0 L1332.1 828.0 L1332.7 825.0 L1333.2 822.0 L1333.8 818.9 L1334.2 815.9 L1334.6 812.8 L1335.0 809.8 L1335.3 806.7 L1335.6 803.7 L1335.8 800.6 L1336.0 797.5 L1336.2 794.5 L1336.2 791.4 L1336.3 788.3 L1336.3 785.3 L1336.2 782.2 L1336.1 779.2 L1335.9 776.2 L1335.7 773.1 L1335.4 770.1 L1335.1 767.1 L1334.7 764.1 L1334.3 761.2 L1333.8 758.2 L1333.3 755.3 L1332.7 752.3 L1332.0 749.4 L1331.3 746.6 L1330.5 743.7 L1329.7 740.9 L1328.8 738.1 L1327.9 735.3 L1326.8 732.5 L1325.8 729.8 L1324.6 727.1 L1323.4 724.4 L1322.2 721.8 L1320.9 719.2 L1319.5 716.6 L1318.0 714.1 L1316.5 711.6 L1315.0 709.1 L1313.4 706.7 L1311.7 704.3 L1310.0 701.9 L1308.2 699.6 L1306.4 697.3 L1304.5 695.0 L1302.6 692.8 L1300.6 690.6 L1298.6 688.4 L1296.5 686.3 L1294.4 684.2 L1292.3 682.2 L1290.1 680.1 L1287.8 678.2 L1285.6 676.2 L1283.3 674.3 L1280.9 672.4 L1278.5 670.6 L1276.1 668.8 L1273.7 667.0 L1271.2 665.3 L1268.7 663.6 L1266.2 662.0 L1263.6 660.3 L1261.0 658.8 L1258.4 657.2 L1255.8 655.7 L1253.1 654.2 L1250.5 652.8 L1247.8 651.4 L1245.0 650.1 L1242.3 648.8 L1239.6 647.5 L1236.8 646.3 L1234.0 645.1 L1231.2 643.9 L1228.4 642.8 L1225.6 641.7 L1222.8 640.6 L1220.0 639.6 L1217.2 638.6 L1214.3 637.6 L1211.5 636.6 L1208.7 635.6 L1205.9 634.6 L1203.1 633.6 L1200.2 632.6 L1197.4 631.6 L1194.7 630.5 L1191.9 629.5 L1189.1 628.4 L1186.4 627.2 L1183.7 626.1 L1181.0 624.8 L1178.3 623.6 L1175.6 622.3 L1173.0 620.9 L1170.4 619.4 L1167.8 617.9 L1165.3 616.4 L1162.7 614.7 L1160.3 613.0 L1157.8 611.1 L1155.4 609.2 L1153.1 607.2 L1150.7 605.1 L1148.5 602.9 L1146.3 600.6 L1144.2 598.2 L1142.2 595.7 L1140.3 593.2 L1138.6 590.5 L1137.0 587.9 L1135.6 585.1 L1134.5 582.3 L1133.5 579.5 L1132.8 576.6 L1132.3 573.7 L1132.1 570.8 L1132.1 567.9 L1132.4 564.9 L1132.8 562.0 L1133.4 559.1 L1134.2 556.3 L1135.1 553.5 L1136.1 550.7 L1137.3 548.1 L1138.5 545.5 L1139.9 543.0 L1141.4 540.5 L1142.9 538.2 L1144.6 535.8 L1146.3 533.6 L1148.2 531.4 L1150.1 529.3 L1152.1 527.3 L1154.1 525.3 L1156.3 523.3 L1158.5 521.5 L1160.8 519.6 L1163.1 517.8 L1165.5 516.1 L1168.0 514.4 L1170.5 512.8 L1173.0 511.2 L1175.6 509.7 L1178.2 508.2 L1180.9 506.7 L1183.6 505.3 L1186.4 503.9 L1189.2 502.5 L1192.0 501.2 L1194.8 499.9 L1197.6 498.7 L1200.5 497.4 L1203.3 496.2 L1206.2 495.1 L1209.1 493.9 L1212.0 492.7 L1214.9 491.6 L1217.7 490.5 L1220.6 489.4 L1223.5 488.4 L1226.4 487.3 L1229.3 486.3 L1232.1 485.3 L1235.0 484.3 L1237.9 483.4 L1240.8 482.4 L1243.7 481.5 L1246.6 480.6 L1249.4 479.7 L1252.3 478.8 L1255.2 477.9 L1258.1 477.1 L1261.0 476.3 L1263.9 475.5 L1266.8 474.7 L1269.7 473.9 L1272.6 473.2 L1275.5 472.5 L1278.4 471.8 L1281.3 471.1 L1284.2 470.4 L1287.1 469.7 L1290.0 469.1 L1292.9 468.5 L1295.8 467.9 L1298.7 467.3 L1301.7 466.7 L1304.6 466.1 L1307.5 465.6 L1310.4 465.1 L1313.3 464.6 L1316.3 464.1 L1319.2 463.6 L1322.1 463.1 L1325.1 462.7 L1328.0 462.3 L1330.9 461.9 L1333.9 461.5 L1336.8 461.1 L1339.8 460.7 L1342.7 460.4 L1345.7 460.0 L1348.6 459.7 L1351.6 459.4 L1354.5 459.1 L1357.5 458.8 L1360.4 458.5 L1363.4 458.3 L1366.4 458.0 L1369.3 457.8 L1372.3 457.6 L1375.3 457.4 L1378.2 457.2 L1381.2 457.0 L1384.2 456.9 L1387.1 456.7 L1390.1 456.6 L1393.1 456.5 L1396.1 456.3 L1399.1 456.2 L1402.0 456.2 L1405.0 456.1 L1408.0 456.0 L1411.0 456.0 L1414.0 455.9 L1417.0 455.9 L1420.0 455.9 L1423.0 455.8 L1426.0 455.8 L1429.0 455.9 L1432.0 455.9 L1435.0 455.9 L1438.0 455.9 L1441.0 456.0 L1444.0 456.1 L1447.0 456.1 L1450.0 456.2 L1453.0 456.3 L1456.0 456.4 L1459.0 456.5 L1462.0 456.6 L1465.0 456.7 L1468.0 456.9 L1471.1 457.0 L1474.1 457.1 L1477.1 457.3 L1480.1 457.5 L1483.1 457.6 L1486.1 457.8 L1489.2 458.0 L1492.2 458.2 L1495.2 458.4 L1498.2 458.6 L1501.3 458.8 L1504.3 459.0 L1507.3 459.3 L1510.3 459.5 L1513.4 459.8 L1516.4 460.0 L1519.4 460.3 L1522.5 460.5 L1525.5 460.8 L1528.5 461.1 L1531.5 461.4 L1534.6 461.7 L1537.6 462.0 L1540.6 462.4 L1543.6 462.7 L1546.6 463.1 L1549.6 463.4 L1552.7 463.8 L1555.7 464.2 L1558.7 464.6 L1561.7 465.0 L1564.7 465.4 L1567.7 465.8 L1570.7 466.3 L1573.7 466.8 L1576.7 467.2 L1579.6 467.7 L1582.6 468.2 L1585.6 468.7 L1588.6 469.3 L1591.5 469.8 L1594.5 470.4 L1597.4 471.0 L1600.4 471.5 L1603.3 472.2 L1606.3 472.8 L1609.2 473.4 L1612.1 474.1 L1615.0 474.7 L1618.0 475.4 L1620.9 476.1 L1623.8 476.9 L1626.7 477.6 L1629.5 478.4 L1632.4 479.2 L1635.3 480.0 L1638.1 480.8 L1641.0 481.6 L1643.8 482.5 L1646.7 483.3 L1649.5 484.2 L1652.3 485.1 L1655.1 486.1 L1657.9 487.0 L1660.7 488.0 L1663.5 489.0 L1666.3 490.0 L1669.1 491.1 L1671.8 492.1 L1674.6 493.2 L1677.3 494.3 L1680.0 495.5 L1682.7 496.6 L1685.4 497.8 L1688.1 499.0 L1690.8 500.2 L1693.5 501.5 L1696.1 502.7 L1698.8 504.0 L1701.4 505.3 L1704.0 506.7 L1706.6 508.1 L1709.2 509.5 L1711.8 510.9 L1714.4 512.3 L1716.9 513.8 L1719.4 515.3 L1722.0 516.8 L1724.5 518.4 L1727.0 520.0 L1729.5 521.6 L1731.9 523.2 L1734.4 524.9 L1736.8 526.6 L1739.3 528.3 L1741.7 530.1 L1744.1 531.8 L1746.4 533.6 L1748.8 535.5 L1751.1 537.4 L1753.5 539.3 L1755.8 541.2 L1758.1 543.1 L1760.4 545.1 L1762.7 547.1 L1765.0 549.1 L1767.2 551.1 L1769.5 553.2 L1771.7 555.2 L1773.9 557.3 L1776.2 559.4 L1778.4 561.5 L1780.6 563.6 L1782.8 565.7 L1785.0 567.9 L1787.2 570.0 L1789.4 572.1 L1791.6 574.3 L1793.8 576.4 L1796.0 578.5 L1798.2 580.7 L1800.4 582.8 L1802.6 584.9 L1804.8 587.0 L1807.0 589.2 L1809.2 591.3 L1811.4 593.3 L1813.6 595.4 L1815.9 597.5 L1818.1 599.5 L1820.3 601.6 L1822.6 603.6 L1824.8 605.6 L1827.1 607.5 L1829.4 609.5 L1831.7 611.4 L1834.0 613.3 L1836.3 615.1 L1838.6 617.0 L1840.9 618.8 L1843.3 620.6 L1845.6 622.4 L1847.9 624.2 L1850.2 626.0 L1852.5 627.9 L1854.8 629.8 L1857.0 631.7 L1859.2 633.7 L1861.4 635.7 L1863.5 637.8 L1865.6 640.0 L1867.6 642.3 L1869.5 644.6 L1871.3 647.1 L1873.1 649.6 L1874.7 652.2 L1876.2 654.8 L1877.6 657.5 L1878.7 660.3 L1879.7 663.1 L1880.5 665.9 L1881.1 668.8 L1881.5 671.6 L1881.6 674.5 L1881.5 677.4 L1881.2 680.3 L1880.8 683.2 L1880.1 686.1 L1879.3 688.9 L1878.3 691.7 L1877.1 694.5 L1875.8 697.2 L1874.4 699.8 L1872.8 702.4 L1871.1 704.9 L1869.3 707.4 L1867.4 709.7 L1865.4 712.0 L1863.4 714.2 L1861.2 716.3 L1859.0 718.3 L1856.7 720.3 L1854.3 722.1 L1851.9 724.0 L1849.4 725.7 L1846.9 727.4 L1844.3 729.1 L1841.7 730.6 L1839.1 732.2 L1836.4 733.7 L1833.8 735.1 L1831.1 736.6 L1828.4 738.0 L1825.7 739.3 L1823.0 740.6 L1820.3 741.9 L1817.5 743.1 L1814.8 744.4 L1812.0 745.5 L1809.3 746.7 L1806.5 747.8 L1803.7 748.9 L1800.9 750.0 L1798.1 751.0 L1795.3 752.0 L1792.5 753.0 L1789.6 754.0 L1786.8 754.9 L1784.0 755.9 L1781.1 756.7 L1778.3 757.6 L1775.4 758.5 L1772.5 759.3 L1769.7 760.1 L1766.8 760.9 L1763.9 761.7 L1761.0 762.4 L1758.1 763.2 L1755.2 763.9 L1752.3 764.6 L1749.4 765.3 L1746.5 766.0 L1743.6 766.7 L1740.6 767.4 L1737.7 768.0 L1734.8 768.7 L1731.9 769.3 L1728.9 769.9 L1726.0 770.5 L1723.1 771.1 L1720.1 771.7 L1717.2 772.3 L1714.2 772.8 L1711.3 773.4 L1708.3 773.9 L1705.4 774.4 L1702.4 774.9 L1699.4 775.4 L1696.5 775.9 L1693.5 776.4 L1690.5 776.9 L1687.6 777.3 L1684.6 777.8 L1681.6 778.2 L1678.7 778.6 L1675.7 779.0 L1672.7 779.4 L1669.7 779.8 L1666.7 780.2 L1663.8 780.5 L1660.8 780.9 L1657.8 781.2 L1654.8 781.5 L1651.8 781.8 L1648.8 782.1 L1645.8 782.4 L1642.8 782.7 L1639.8 783.0 L1636.8 783.2 L1633.8 783.4 L1630.8 783.7 L1627.8 783.9 L1624.8 784.1 L1621.9 784.3 L1618.9 784.5 L1615.9 784.6 L1612.9 784.8 L1609.9 784.9 L1606.9 785.0 L1603.9 785.2 L1600.9 785.3 L1597.9 785.3 L1594.9 785.4 L1591.9 785.5 L1588.9 785.5 L1585.9 785.6 L1582.9 785.6 L1579.9 785.6 L1576.9 785.6 L1573.9 785.6 L1570.9 785.6 L1567.9 785.6 L1564.9 785.5 L1561.9 785.5 L1558.9 785.4 L1555.9 785.3 L1552.9 785.2 L1549.9 785.1 L1546.9 785.0 L1544.0 784.9 L1541.0 784.7 L1538.0 784.6 L1535.0 784.4 L1532.0 784.3 L1529.0 784.1 L1526.0 783.9 L1523.1 783.7 L1520.1 783.4 L1517.1 783.2 L1514.1 783.0 L1511.1 782.7 L1508.2 782.5 L1505.2 782.2 L1502.2 781.9 L1499.2 781.7 L1496.2 781.4 L1493.3 781.1 L1490.3 780.7 L1487.3 780.4 L1484.3 780.1 L1481.4 779.7 L1478.4 779.4 L1475.4 779.0 L1472.4 778.7 L1469.4 778.3 L1466.5 777.9 L1463.5 777.5 L1460.5 777.1 L1457.5 776.7 L1454.6 776.3 L1451.6 775.9 L1448.6 775.5 L1445.7 775.0 L1442.7 774.6 L1439.7 774.2 L1436.7 773.7 L1433.8 773.2 L1430.8 772.8 L1427.8 772.3 L1424.8 771.8 L1421.9 771.3 L1418.9 770.8 L1415.9 770.3 L1413.0 769.8 L1410.0 769.3 L1407.0 768.7 L1404.1 768.2 L1401.1 767.6 L1398.2 767.0 L1395.2 766.4 L1392.3 765.8 L1389.3 765.1 L1386.4 764.5 L1383.5 763.8 L1380.6 763.1 L1377.7 762.4 L1374.7 761.6 L1371.8 760.9 L1369.0 760.1 L1366.1 759.3 L1363.2 758.4 L1360.3 757.6 L1357.5 756.7 L1354.6 755.8 L1351.8 754.8 L1349.0 753.9 L1346.1 752.9 L1343.3 751.9 L1340.5 750.8 L1337.8 749.7 L1335.0 748.6 L1332.2 747.4 L1329.5 746.2 L1326.7 745.0 L1324.0 743.7 L1321.3 742.4 L1318.6 741.1 L1315.9 739.7 L1313.3 738.3 L1310.6 736.9 L1308.0 735.4 L1305.4 733.8 L1302.8 732.3 L1300.2 730.6 L1297.6 729.0 L1295.1 727.3 L1292.5 725.5 L1290.0 723.7 L1287.5 721.9 L1285.1 720.0 L1282.7 718.1 L1280.3 716.1 L1278.0 714.0 L1275.7 712.0 L1273.6 709.8 L1271.5 707.7 L1269.5 705.4 L1267.6 703.2 L1265.8 700.8 L1264.2 698.5 L1262.6 696.1 L1261.2 693.6 L1260.0 691.1 L1258.9 688.5 L1257.9 685.9 L1257.2 683.2 L1256.6 680.5 L1256.2 677.8 L1256.0 674.9 L1256.0 672.1 L1256.3 669.2 L1256.7 666.2 L1257.3 663.3 L1258.1 660.4 L1259.0 657.4 L1260.1 654.5 L1261.4 651.7 L1262.8 648.8 L1264.3 646.1 L1266.0 643.5 L1267.8 640.9 L1269.7 638.4 L1271.7 636.1 L1273.8 633.9 L1276.0 631.8 L1278.3 629.8 L1280.7 628.0 L1283.1 626.2 L1285.6 624.5 L1288.1 622.9 L1290.7 621.3 L1293.3 619.9 L1296.0 618.5 L1298.7 617.1 L1301.5 615.9 L1304.2 614.6 L1307.0 613.4 L1309.8 612.2 L1312.5 611.0 L1315.3 609.9 L1318.1 608.7 L1320.9 607.6 L1323.6 606.5 L1326.4 605.5 L1329.2 604.4 L1332.0 603.4 L1334.8 602.4 L1337.6 601.4 L1340.4 600.5 L1343.2 599.6 L1346.1 598.7 L1348.9 597.9"/>
<path class="b" d="M1474.9 1238.7 L1472.1 1239.7 L1469.3 1240.6 L1466.4 1241.5 L1463.6 1242.3 L1460.7 1243.1 L1457.8 1243.8 L1454.9 1244.5 L1452.0 1245.1 L1449.1 1245.7 L1446.2 1246.2 L1443.2 1246.7 L1440.3 1247.1 L1437.3 1247.5 L1434.4 1247.9 L1431.4 1248.2 L1428.4 1248.4 L1425.4 1248.6 L1422.4 1248.8 L1419.4 1248.9 L1416.4 1248.9 L1413.4 1248.9 L1410.4 1248.9 L1407.4 1248.8 L1404.4 1248.7 L1401.4 1248.5 L1398.4 1248.3 L1395.4 1248.0 L1392.4 1247.7 L1389.4 1247.4 L1386.4 1247.0 L1383.4 1246.6 L1380.5 1246.1 L1377.5 1245.5 L1374.5 1245.0 L1371.5 1244.4 L1368.6 1243.7 L1365.7 1243.0 L1362.7 1242.3 L1359.8 1241.5 L1356.9 1240.7 L1354.0 1239.8 L1351.1 1238.9 L1348.2 1238.0 L1345.4 1237.0 L1342.5 1236.0 L1339.7 1234.9 L1336.9 1233.8 L1334.1 1232.6 L1331.4 1231.5 L1328.6 1230.2 L1325.9 1229.0 L1323.2 1227.7 L1320.5 1226.3 L1317.8 1225.0 L1315.2 1223.5 L1312.6 1222.1 L1310.0 1220.6 L1307.4 1219.1 L1304.8 1217.5 L1302.3 1215.9 L1299.8 1214.3 L1297.4 1212.6 L1294.9 1210.9 L1292.5 1209.1 L1290.1 1207.4 L1287.8 1205.5 L1285.4 1203.7 L1283.1 1201.8 L1280.9 1199.9 L1278.6 1197.9 L1276.4 1196.0 L1274.2 1194.0 L1272.1 1191.9 L1269.9 1189.8 L1267.8 1187.7 L1265.8 1185.6 L1263.7 1183.4 L1261.7 1181.2 L1259.8 1179.0 L1257.8 1176.7 L1255.9 1174.5 L1254.0 1172.1 L1252.2 1169.8 L1250.4 1167.4 L1248.6 1165.0 L1246.9 1162.6 L1245.2 1160.2 L1243.5 1157.7 L1241.9 1155.2 L1240.2 1152.7 L1238.6 1150.1 L1237.1 1147.6 L1235.5 1145.0 L1234.0 1142.4 L1232.5 1139.8 L1231.0 1137.2 L1229.5 1134.5 L1228.0 1131.9 L1226.6 1129.2 L1225.2 1126.6 L1223.7 1123.9 L1222.3 1121.2 L1220.9 1118.5 L1219.5 1115.8 L1218.1 1113.1 L1216.8 1110.4 L1215.4 1107.7 L1214.0 1105.0 L1212.6 1102.3 L1211.3 1099.6 L1209.9 1096.9 L1208.5 1094.2 L1207.1 1091.5 L1205.7 1088.8 L1204.3 1086.1 L1202.9 1083.5 L1201.5 1080.8 L1200.1 1078.2 L1198.7 1075.5 L1197.2 1072.9 L1195.7 1070.3 L1194.3 1067.7 L1192.8 1065.1 L1191.2 1062.6 L1189.7 1060.0 L1188.2 1057.5 L1186.6 1054.9 L1185.0 1052.4 L1183.5 1049.9 L1181.9 1047.4 L1180.3 1044.9 L1178.7 1042.4 L1177.1 1039.9 L1175.5 1037.4 L1173.9 1034.9 L1172.3 1032.4 L1170.7 1029.9 L1169.2 1027.4 L1167.6 1024.9 L1166.0 1022.4 L1164.4 1019.8 L1162.9 1017.3 L1161.3 1014.7 L1159.8 1012.1 L1158.2 1009.5 L1156.7 1006.9 L1155.2 1004.3 L1153.8 1001.6 L1152.3 999.0 L1150.9 996.3 L1149.4 993.5 L1148.0 990.8 L1146.6 988.1 L1145.2 985.4 L1143.7 982.6 L1142.3 979.9 L1140.9 977.2 L1139.4 974.6 L1137.9 971.9 L1136.3 969.3 L1134.8 966.7 L1133.2 964.1 L1131.5 961.6 L1129.8 959.2 L1128.0 956.8 L1126.2 954.4 L1124.4 952.1 L1122.5 949.9 L1120.6 947.6 L1118.6 945.4 L1116.6 943.3 L1114.5 941.2 L1112.4 939.1 L1110.3 937.1 L1108.1 935.1 L1105.9 933.2 L1103.7 931.3 L1101.4 929.4 L1099.1 927.5 L1096.8 925.7 L1094.5 923.9 L1092.1 922.2 L1089.7 920.4 L1087.2 918.7 L1084.8 917.1 L1082.3 915.4 L1079.8 913.8 L1077.3 912.2 L1074.7 910.6 L1072.2 909.1 L1069.6 907.5 L1067.0 906.0 L1064.4 904.5 L1061.8 903.0 L1059.1 901.5 L1056.5 900.1 L1053.8 898.6 L1051.2 897.2 L1048.5 895.8 L1045.8 894.4 L1043.1 893.0 L1040.5 891.6 L1037.8 890.2 L1035.1 888.9 L1032.4 887.5 L1029.7 886.2 L1026.9 884.8 L1024.2 883.5 L1021.5 882.2 L1018.8 880.9 L1016.0 879.6 L1013.3 878.3 L1010.5 877.1 L1007.8 875.8 L1005.0 874.6 L1002.3 873.3 L999.5 872.1 L996.7 870.9 L993.9 869.7 L991.2 868.6 L988.4 867.4 L985.6 866.2 L982.8 865.1 L980.0 864.0 L977.2 862.9 L974.4 861.8 L971.5 860.7 L968.7 859.6 L965.9 858.6 L963.1 857.6 L960.2 856.5 L957.4 855.5 L954.6 854.5 L951.7 853.6 L948.9 852.6 L946.0 851.7 L943.1 850.7 L940.3 849.8 L937.4 848.9 L934.5 848.1 L931.7 847.2 L928.8 846.4 L925.9 845.5 L923.0 844.7 L920.1 843.9 L917.2 843.2 L914.3 842.4 L911.4 841.7 L908.5 840.9 L905.6 840.2 L902.7 839.6 L899.8 838.9 L896.9 838.2 L894.0 837.6 L891.1 837.0 L888.1 836.4 L885.2 835.9 L882.3 835.3 L879.3 834.8 L876.4 834.3 L873.5 833.8 L870.5 833.3 L867.6 832.8 L864.6 832.4 L861.7 832.0 L858.7 831.6 L855.8 831.3 L852.8 830.9 L849.8 830.6 L846.9 830.3 L843.9 830.0 L840.9 829.7 L838.0 829.5 L835.0 829.3 L832.0 829.1 L829.0 828.9 L826.1 828.8 L823.1 828.7 L820.1 828.6 L817.1 828.5 L814.1 828.4 L811.1 828.4 L808.1 828.4 L805.2 828.4 L802.2 828.4 L799.2 828.5 L796.2 828.6 L793.2 828.7 L790.2 828.8 L787.2 829.0 L784.2 829.2 L781.2 829.4 L778.2 829.6 L775.2 829.8 L772.1 830.1 L769.1 830.3 L766.1 830.6 L763.1 830.9 L760.1 831.2 L757.1 831.6 L754.1 831.9 L751.1 832.3 L748.1 832.7 L745.1 833.1 L742.1 833.5 L739.1 833.9 L736.1 834.3 L733.1 834.8 L730.1 835.2 L727.1 835.7 L724.1 836.1 L721.1 836.6 L718.1 837.1 L715.2 837.7 L712.2 838.2 L709.2 838.8 L706.3 839.5 L703.4 840.1 L700.4 840.9 L697.5 841.7 L694.7 842.5 L691.8 843.4 L689.0 844.4 L686.2 845.4 L683.4 846.6 L680.7 847.8 L678.0 849.1 L675.3 850.5 L672.6 852.0 L670.0 853.5 L667.5 855.2 L665.0 857.0 L662.5 858.8 L660.1 860.7 L657.8 862.7 L655.5 864.8 L653.3 867.0 L651.2 869.2 L649.2 871.4 L647.3 873.8 L645.4 876.2 L643.7 878.6 L642.1 881.1 L640.5 883.6 L639.1 886.2 L637.9 888.8 L636.7 891.5 L635.7 894.1 L634.8 896.8 L634.0 899.6 L633.4 902.3 L633.0 905.1 L632.7 907.9 L632.5 910.7 L632.5 913.4 L632.7 916.2 L633.0 919.1 L633.4 921.9 L634.0 924.7 L634.7 927.5 L635.5 930.3 L636.4 933.1 L637.5 935.8 L638.6 938.6 L639.9 941.4 L641.2 944.1 L642.7 946.8 L644.2 949.5 L645.8 952.2 L647.5 954.8 L649.2 957.5 L651.0 960.1 L652.9 962.6 L654.8 965.2 L656.8 967.6 L658.8 970.1 L660.9 972.5 L663.0 974.9 L665.1 977.2 L667.3 979.5 L669.5 981.7 L671.6 983.9 L673.9 986.0 L676.1 988.1 L678.3 990.2 L680.6 992.2 L682.9 994.2 L685.2 996.1 L687.5 998.0 L689.9 999.8 L692.2 1001.6 L694.6 1003.4 L697.0 1005.1 L699.4 1006.8 L701.8 1008.5 L704.3 1010.2 L706.7 1011.8 L709.2 1013.4 L711.7 1014.9 L714.2 1016.5 L716.7 1018.0 L719.2 1019.5 L721.8 1020.9 L724.3 1022.4 L726.9 1023.8 L729.5 1025.2 L732.1 1026.6 L734.7 1028.0 L737.3 1029.3 L739.9 1030.7 L742.6 1032.0 L745.2 1033.3 L747.9 1034.6 L750.6 1035.9 L753.3 1037.2 L756.0 1038.5 L758.7 1039.7 L761.4 1041.0 L764.2 1042.2 L766.9 1043.4 L769.6 1044.6 L772.4 1045.8 L775.2 1047.0 L778.0 1048.1 L780.7 1049.3 L783.5 1050.4 L786.3 1051.5 L789.1 1052.6 L792.0 1053.7 L794.8 1054.8 L797.6 1055.9 L800.5 1056.9 L803.3 1057.9 L806.2 1059.0 L809.0 1060.0 L811.9 1060.9 L814.8 1061.9 L817.6 1062.9 L820.5 1063.8 L823.4 1064.7 L826.3 1065.6 L829.2 1066.5 L832.1 1067.4 L835.0 1068.3 L837.9 1069.1 L840.8 1070.0 L843.7 1070.8 L846.6 1071.6 L849.6 1072.3 L852.5 1073.1 L855.4 1073.8 L858.3 1074.6 L861.3 1075.3 L864.2 1076.0 L867.1 1076.6 L870.0 1077.3 L873.0 1077.9 L875.9 1078.6 L878.8 1079.2 L881.8 1079.8 L884.7 1080.3 L887.7 1080.9 L890.6 1081.4 L893.5 1081.9 L896.5 1082.4 L899.4 1082.9 L902.3 1083.3 L905.3 1083.8 L908.2 1084.2 L911.1 1084.6 L914.1 1085.0 L917.0 1085.3 L919.9 1085.7 L922.9 1086.0 L925.8 1086.3 L928.7 1086.6 L931.7 1086.9 L934.6 1087.2 L937.6 1087.4 L940.5 1087.6 L943.5 1087.8 L946.4 1088.0 L949.4 1088.2 L952.4 1088.4 L955.3 1088.5 L958.3 1088.6 L961.3 1088.7 L964.3 1088.8 L967.2 1088.9 L970.2 1089.0 L973.2 1089.0 L976.2 1089.0 L979.2 1089.0 L982.3 1089.0 L985.3 1089.0 L988.3 1088.9 L991.3 1088.9 L994.4 1088.8 L997.4 1088.7 L1000.5 1088.6 L1003.5 1088.5 L1006.6 1088.3 L1009.7 1088.2 L1012.7 1088.0 L1015.8 1087.8 L1018.9 1087.5 L1021.9 1087.3 L1025.0 1087.0 L1028.0 1086.7 L1031.1 1086.4 L1034.1 1086.0 L1037.2 1085.6 L1040.2 1085.2 L1043.2 1084.7 L1046.2 1084.2 L1049.2 1083.7 L1052.2 1083.1 L1055.2 1082.5 L1058.2 1081.9 L1061.1 1081.2 L1064.0 1080.5 L1067.0 1079.8 L1069.8 1079.0 L1072.7 1078.1 L1075.6 1077.2 L1078.4 1076.3 L1081.2 1075.3 L1084.0 1074.3 L1086.8 1073.2 L1089.5 1072.1 L1092.2 1071.0 L1094.9 1069.7 L1097.5 1068.5 L1100.1 1067.1 L1102.7 1065.8 L1105.3 1064.3 L1107.8 1062.8 L1110.3 1061.3 L1112.7 1059.7 L1115.1 1058.0 L1117.5 1056.3 L1119.8 1054.5 L1122.1 1052.6 L1124.3 1050.7 L1126.4 1048.6 L1128.4 1046.5 L1130.3 1044.4 L1132.2 1042.1 L1133.9 1039.7 L1135.5 1037.3 L1136.9 1034.7 L1138.3 1032.1 L1139.5 1029.4 L1140.7 1026.7 L1141.8 1023.8 L1142.9 1021.0 L1143.9 1018.1 L1144.8 1015.2 L1145.8 1012.4 L1146.8 1009.5 L1147.7 1006.6 L1148.7 1003.8 L1149.6 1000.9 L1150.6 998.0 L1151.5 995.2 L1152.4 992.3 L1153.4 989.5 L1154.3 986.6 L1155.2 983.8 L1156.1 980.9 L1157.0 978.0 L1157.8 975.1 L1158.7 972.3 L1159.5 969.4 L1160.3 966.5 L1161.1 963.5 L1161.9 960.6 L1162.7 957.7 L1163.4 954.8 L1164.2 951.8 L1164.9 948.9 L1165.7 945.9 L1166.4 943.0 L1167.2 940.0 L1167.9 937.1 L1168.7 934.2 L1169.5 931.2 L1170.3 928.3 L1171.1 925.4 L1171.9 922.5 L1172.8 919.6 L1173.7 916.8 L1174.6 913.9 L1175.6 911.1 L1176.6 908.3 L1177.6 905.5 L1178.7 902.7 L1179.8 900.0 L1180.9 897.2 L1182.1 894.6 L1183.4 891.9 L1184.7 889.3 L1186.1 886.7 L1187.5 884.1 L1189.0 881.6 L1190.6 879.1 L1192.2 876.7 L1193.8 874.3 L1195.6 871.9 L1197.3 869.6 L1199.2 867.3 L1201.1 865.1 L1203.1 862.9 L1205.1 860.8 L1207.2 858.7 L1209.4 856.7 L1211.7 854.8 L1214.0 852.9 L1216.4 851.1 L1218.8 849.3 L1221.4 847.6 L1224.0 845.9 L1226.7 844.4 L1229.4 842.9 L1232.2 841.5 L1235.1 840.1 L1238.1 838.8 L1241.2 837.6 L1244.2 836.5 L1247.3 835.5 L1250.4 834.7 L1253.6 833.9 L1256.7 833.2 L1259.8 832.7 L1262.8 832.3 L1265.8 832.0 L1268.8 831.9 L1271.7 832.0 L1274.5 832.2 L1277.2 832.6 L1279.7 833.1 L1282.2 833.8 L1284.5 834.8 L1286.7 835.9 L1288.7 837.2 L1290.6 838.7 L1292.2 840.5 L1293.6 842.5 L1294.9 844.7 L1295.9 847.1 L1296.7 849.7 L1297.4 852.5 L1297.8 855.4 L1298.1 858.5 L1298.3 861.7 L1298.2 864.9 L1298.1 868.2 L1297.9 871.5 L1297.5 874.8 L1297.0 878.1 L1296.5 881.4 L1295.9 884.6 L1295.2 887.7 L1294.4 890.8 L1293.6 893.8 L1292.7 896.8 L1291.8 899.7 L1290.8 902.6 L1289.7 905.4 L1288.6 908.2 L1287.5 911.0 L1286.3 913.7 L1285.0 916.4 L1283.7 919.1 L1282.4 921.7 L1281.0 924.4 L1279.6 927.0 L1278.2 929.6 L1276.8 932.1 L1275.3 934.7 L1273.8 937.2 L1272.3 939.8 L1270.8 942.3 L1269.2 944.8 L1267.7 947.3 L1266.1 949.9 L1264.5 952.4 L1262.9 954.8 L1261.3 957.3 L1259.6 959.8 L1258.0 962.3 L1256.3 964.8 L1254.6 967.2 L1252.9 969.7 L1251.2 972.1 L1249.4 974.5 L1247.7 977.0 L1245.9 979.4 L1244.2 981.8 L1242.4 984.2 L1240.6 986.6 L1238.8 989.0 L1236.9 991.4 L1235.1 993.8 L1233.2 996.1 L1231.4 998.5 L1229.5 1000.8 L1227.6 1003.2 L1225.7 1005.5 L1223.8 1007.8 L1221.9 1010.2 L1220.0 1012.5 L1218.0 1014.8 L1216.1 1017.1 L1214.1 1019.4 L1212.2 1021.7 L1210.2 1023.9 L1208.2 1026.2 L1206.2 1028.5 L1204.2 1030.7 L1202.2 1033.0 L1200.2 1035.2 L1198.1 1037.4 L1196.1 1039.7 L1194.1 1041.9 L1192.0 1044.1 L1190.0 1046.3 L1187.9 1048.5 L1185.8 1050.6 L1183.8 1052.8 L1181.7 1055.0 L1179.6 1057.2 L1177.5 1059.3 L1175.4 1061.5 L1173.3 1063.6 L1171.2 1065.7 L1169.1 1067.8 L1167.0 1070.0 L1164.8 1072.1 L1162.7 1074.2 L1160.6 1076.2 L1158.4 1078.3 L1156.3 1080.4 L1154.1 1082.5 L1151.9 1084.5 L1149.8 1086.6 L1147.6 1088.6 L1145.4 1090.6 L1143.2 1092.7 L1141.0 1094.7 L1138.8 1096.7 L1136.6 1098.7 L1134.4 1100.7 L1132.2 1102.7 L1129.9 1104.7 L1127.7 1106.6 L1125.4 1108.6 L1123.2 1110.5 L1120.9 1112.5 L1118.7 1114.4 L1116.4 1116.3 L1114.1 1118.3 L1111.8 1120.2 L1109.5 1122.1 L1107.2 1124.0 L1104.9 1125.9 L1102.6 1127.7 L1100.3 1129.6 L1097.9 1131.5 L1095.6 1133.3 L1093.2 1135.2 L1090.9 1137.0 L1088.5 1138.8 L1086.2 1140.7 L1083.8 1142.5 L1081.4 1144.3 L1079.0 1146.1 L1076.5 1147.8 L1074.1 1149.6 L1071.6 1151.3 L1069.1 1153.0 L1066.6 1154.7 L1064.1 1156.3 L1061.5 1157.9 L1058.9 1159.5 L1056.2 1161.0 L1053.6 1162.5 L1050.8 1164.0 L1048.1 1165.4 L1045.3 1166.8 L1042.4 1168.1 L1039.5 1169.4 L1036.5 1170.7 L1033.5 1171.8 L1030.5 1172.9 L1027.4 1173.9 L1024.4 1174.7 L1021.3 1175.5 L1018.4 1176.0 L1015.4 1176.4 L1012.6 1176.5 L1009.8 1176.5 L1007.1 1176.1 L1004.5 1175.5 L1002.1 1174.7 L999.8 1173.5 L997.7 1172.0 L995.8 1170.4 L994.0 1168.4 L992.4 1166.3 L991.0 1164.0 L989.7 1161.6 L988.7 1159.0 L987.9 1156.3 L987.3 1153.5 L986.9 1150.7 L986.7 1147.9 L986.8 1145.0 L987.0 1142.1 L987.4 1139.1 L987.9 1136.2 L988.6 1133.2 L989.4 1130.2 L990.3 1127.2 L991.3 1124.3 L992.4 1121.3 L993.5 1118.4 L994.6 1115.4 L995.8 1112.5 L996.9 1109.6 L998.1 1106.7 L999.3 1103.9 L1000.6 1101.0 L1001.8 1098.2 L1003.1 1095.4 L1004.4 1092.6 L1005.7 1089.8 L1007.0 1087.1 L1008.4 1084.3 L1009.7 1081.6 L1011.1 1078.9 L1012.5 1076.2 L1013.9 1073.6 L1015.3 1070.9 L1016.8 1068.3 L1018.2 1065.6 L1019.7 1063.0 L1021.2 1060.4 L1022.7 1057.8 L1024.2 1055.3 L1025.8 1052.7 L1027.3 1050.2 L1028.9 1047.6 L1030.4 1045.1 L1032.0 1042.6 L1033.6 1040.1 L1035.3 1037.6 L1036.9 1035.1 L1038.5 1032.6 L1040.2 1030.2 L1041.9 1027.7 L1043.6 1025.3 L1045.3 1022.8 L1047.0 1020.4 L1048.7 1018.0 L1050.4 1015.6 L1052.2 1013.2 L1053.9 1010.8 L1055.7 1008.4 L1057.5 1006.0 L1059.3 1003.6 L1061.1 1001.2 L1062.9 998.9 L1064.7 996.5 L1066.5 994.2 L1068.4 991.9 L1070.2 989.5 L1072.1 987.2 L1074.0 984.9 L1075.8 982.6 L1077.7 980.3 L1079.6 978.0 L1081.5 975.7 L1083.4 973.4 L1085.4 971.1 L1087.3 968.8 L1089.2 966.5 L1091.2 964.3 L1093.1 962.0 L1095.1 959.8 L1097.1 957.5 L1099.1 955.3 L1101.0 953.0 L1103.0 950.8 L1105.0 948.6 L1107.0 946.3 L1109.0 944.1 L1111.1 941.9 L1113.1 939.7 L1115.1 937.5 L1117.1 935.2 L1119.2 933.0 L1121.2 930.8 L1123.3 928.6 L1125.3 926.4 L1127.4 924.3 L1129.4 922.1 L1131.5 919.9 L1133.5 917.7 L1135.6 915.5 L1137.7 913.3 L1139.8 911.2 L1141.9 909.0 L1143.9 906.8 L1146.0 904.6 L1148.1 902.5 L1150.2 900.3 L1152.3 898.1 L1154.4 896.0 L1156.5 893.8 L1158.6 891.6 L1160.7 889.5 L1162.8 887.3 L1164.9 885.1 L1167.0 883.0 L1169.1 880.8 L1171.2 878.7 L1173.3 876.5 L1175.4 874.3 L1177.5 872.2 L1179.6 870.0 L1181.7 867.8 L1183.8 865.7 L1185.9 863.5 L1188.0 861.4 L1190.1 859.2 L1192.2 857.0 L1194.3 854.9 L1196.4 852.7 L1198.5 850.5 L1200.6 848.4 L1202.7 846.2 L1204.8 844.0 L1206.9 841.8 L1209.0 839.7 L1211.1 837.5 L1213.2 835.3 L1215.2 833.1 L1217.3 831.0 L1219.4 828.8 L1221.5 826.6 L1223.6 824.4 L1225.6 822.2 L1227.7 820.1 L1229.8 817.9 L1231.9 815.7 L1233.9 813.5 L1236.0 811.3 L1238.1 809.1 L1240.1 807.0 L1242.2 804.8 L1244.3 802.6 L1246.3 800.4 L1248.4 798.2 L1250.4 796.0 L1252.5 793.8 L1254.5 791.6 L1256.6 789.5 L1258.7 787.3 L1260.7 785.1 L1262.8 782.9 L1264.8 780.7 L1266.9 778.5 L1268.9 776.3 L1270.9 774.1 L1273.0 771.9 L1275.0 769.7 L1277.1 767.5 L1279.1 765.3 L1281.1 763.2 L1283.2 761.0 L1285.2 758.8 L1287.3 756.6 L1289.3 754.4 L1291.3 752.2 L1293.3 750.0 L1295.4 747.8 L1297.4 745.6 L1299.4 743.4 L1301.4 741.2 L1303.5 739.0 L1305.5 736.8 L1307.5 734.6 L1309.5 732.5 L1311.5 730.3 L1313.5 728.1 L1315.6 725.9 L1317.6 723.7 L1319.6 721.5 L1321.6 719.3 L1323.6 717.1 L1325.6 714.9 L1327.5 712.7 L1329.5 710.5 L1331.5 708.2 L1333.4 706.0 L1335.3 703.8 L1337.3 701.5 L1339.2 699.2 L1341.1 697.0 L1342.9 694.7 L1344.8 692.4 L1346.6 690.1 L1348.4 687.7 L1350.2 685.4 L1352.0 683.0 L1353.7 680.6 L1355.4 678.2 L1357.1 675.8 L1358.8 673.3 L1360.4 670.9 L1362.0 668.4 L1363.6 665.8 L1365.1 663.3 L1366.6 660.7 L1368.1 658.1 L1369.5 655.5 L1370.9 652.8 L1372.3 650.1 L1373.6 647.4 L1374.9 644.7 L1376.1 641.9 L1377.3 639.1 L1378.5 636.2 L1379.6 633.4 L1380.6 630.5 L1381.6 627.5 L1382.6 624.6 L1383.5 621.6 L1384.4 618.6 L1385.2 615.6 L1386.0 612.6 L1386.7 609.6 L1387.4 606.5 L1388.1 603.5 L1388.6 600.4 L1389.2 597.3 L1389.6 594.2 L1390.1 591.1 L1390.4 588.1 L1390.7 585.0 L1391.0 581.9 L1391.2 578.8 L1391.3 575.7 L1391.4 572.6 L1391.4 569.5 L1391.4 566.5 L1391.3 563.4 L1391.2 560.4 L1391.0 557.3 L1390.7 554.3 L1390.3 551.3 L1389.9 548.4 L1389.5 545.4 L1388.9 542.5 L1388.3 539.5 L1387.7 536.7 L1387.0 533.8 L1386.2 531.0 L1385.3 528.2 L1384.4 525.4 L1383.4 522.7 L1382.3 520.0 L1381.1 517.3 L1379.9 514.7 L1378.6 512.1 L1377.3 509.5 L1375.8 507.0 L1374.3 504.6 L1372.8 502.2 L1371.1 499.8 L1369.4 497.4 L1367.7 495.1 L1365.9 492.9 L1364.0 490.7 L1362.0 488.5 L1360.1 486.4 L1358.0 484.3 L1355.9 482.3 L1353.8 480.3 L1351.6 478.3 L1349.3 476.4 L1347.0 474.5 L1344.7 472.7 L1342.3 470.9 L1339.9 469.1 L1337.4 467.4 L1334.9 465.8 L1332.4 464.1 L1329.8 462.6 L1327.3 461.0 L1324.6 459.5 L1322.0 458.1 L1319.3 456.7 L1316.6 455.3 L1313.9 454.0 L1311.1 452.7 L1308.3 451.4 L1305.5 450.3 L1302.7 449.1 L1299.9 448.0 L1297.1 446.9 L1294.2 445.9 L1291.4 444.9 L1288.5 444.0 L1285.7 443.1 L1282.8 442.2 L1279.9 441.4 L1277.0 440.6 L1274.1 439.9 L1271.2 439.2 L1268.3 438.5 L1265.3 437.9 L1262.4 437.3 L1259.5 436.8 L1256.6 436.3 L1253.6 435.9 L1250.7 435.5 L1247.7 435.1 L1244.8 434.7 L1241.8 434.4 L1238.8 434.2 L1235.9 433.9 L1232.9 433.8 L1229.9 433.6 L1227.0 433.5 L1224.0 433.4 L1221.0 433.4 L1218.0 433.4 L1215.1 433.4 L1212.1 433.4 L1209.1 433.5 L1206.1 433.7 L1203.1 433.8 L1200.1 434.0 L1197.2 434.3 L1194.2 434.5 L1191.2 434.8 L1188.2 435.2 L1185.2 435.5 L1182.3 435.9 L1179.3 436.4 L1176.3 436.8 L1173.3 437.3 L1170.4 437.8 L1167.4 438.4 L1164.5 438.9 L1161.5 439.6 L1158.5 440.2 L1155.6 440.9 L1152.6 441.6 L1149.7 442.3 L1146.8 443.0 L1143.8 443.8 L1140.9 444.6 L1138.0 445.5 L1135.1 446.3 L1132.2 447.2 L1129.3 448.1 L1126.4 449.1 L1123.5 450.1 L1120.6 451.1 L1117.8 452.1 L1114.9 453.1 L1112.0 454.2 L1109.2 455.3 L1106.4 456.4 L1103.5 457.5 L1100.7 458.7 L1097.9 459.9 L1095.1 461.1 L1092.3 462.4 L1089.5 463.6 L1086.8 464.9 L1084.0 466.2 L1081.3 467.5 L1078.5 468.9 L1075.8 470.2 L1073.1 471.6 L1070.4 473.0 L1067.7 474.4 L1065.1 475.9 L1062.4 477.4 L1059.8 478.8 L1057.1 480.3 L1054.5 481.9 L1051.9 483.4 L1049.3 485.0 L1046.8 486.5 L1044.2 488.1 L1041.7 489.7 L1039.1 491.4 L1036.6 493.0 L1034.1 494.7 L1031.7 496.4 L1029.2 498.1 L1026.8 499.8 L1024.4 501.5 L1022.0 503.3 L1019.6 505.1 L1017.2 506.9 L1014.9 508.7 L1012.6 510.5 L1010.3 512.4 L1008.0 514.3 L1005.7 516.2 L1003.5 518.1 L1001.3 520.1 L999.1 522.1 L996.9 524.1 L994.8 526.1 L992.7 528.1 L990.6 530.2 L988.6 532.3 L986.5 534.4 L984.5 536.5 L982.5 538.7 L980.6 540.9 L978.7 543.1 L976.8 545.3 L974.9 547.6 L973.0 549.9 L971.2 552.2 L969.5 554.5 L967.7 556.9 L966.0 559.3 L964.3 561.7 L962.6 564.1 L961.0 566.6 L959.4 569.1 L957.9 571.6 L956.4 574.2 L954.9 576.8 L953.4 579.4 L952.0 582.0 L950.6 584.7 L949.2 587.4 L947.9 590.1 L946.6 592.8 L945.3 595.5 L944.0 598.3 L942.8 601.1 L941.5 603.9 L940.3 606.7 L939.2 609.5 L938.0 612.3 L936.9 615.2 L935.7 618.0 L934.6 620.9 L933.5 623.7 L932.4 626.6 L931.4 629.5 L930.3 632.3 L929.2 635.2 L928.2 638.1 L927.1 640.9 L926.1 643.8 L925.1 646.7 L924.1 649.5 L923.0 652.4 L922.0 655.2 L921.0 658.0 L920.0 660.9 L918.9 663.7 L917.9 666.5 L916.9 669.3 L915.9 672.1 L914.8 674.9 L913.8 677.7 L912.8 680.5 L911.8 683.3 L910.8 686.1 L909.7 688.9 L908.7 691.6 L907.7 694.4 L906.7 697.2 L905.6 700.0 L904.6 702.7 L903.6 705.5 L902.5 708.3 L901.5 711.0 L900.4 713.8 L899.4 716.6 L898.3 719.4 L897.3 722.1 L896.2 724.9 L895.1 727.7 L894.0 730.4 L893.0 733.2 L891.9 736.0 L890.8 738.8 L889.7 741.6 L888.6 744.4 L887.5 747.2 L886.4 750.0 L885.3 752.8 L884.2 755.6 L883.1 758.4 L882.0 761.2 L880.9 764.0 L879.8 766.9 L878.7 769.7 L877.6 772.5 L876.5 775.4 L875.5 778.2 L874.4 781.0 L873.4 783.9 L872.4 786.8 L871.4 789.6 L870.4 792.5 L869.4 795.4 L868.5 798.2 L867.6 801.1 L866.7 804.0 L865.8 806.9 L865.0 809.8 L864.2 812.7 L863.4 815.6 L862.6 818.6 L861.9 821.5 L861.2 824.4 L860.6 827.4 L860.0 830.3 L859.4 833.2 L858.9 836.2 L858.4 839.1 L857.9 842.1 L857.6 845.0 L857.2 848.0 L856.9 850.9 L856.7 853.9 L856.5 856.8 L856.4 859.8 L856.3 862.7 L856.3 865.6 L856.3 868.6 L856.4 871.5 L856.6 874.4 L856.9 877.3 L857.2 880.2 L857.6 883.1 L858.0 885.9 L858.6 888.8 L859.2 891.7 L859.9 894.5 L860.6 897.3 L861.5 900.1 L862.4 902.9 L863.4 905.7 L864.5 908.4 L865.7 911.1 L867.0 913.9 L868.3 916.5 L869.7 919.2 L871.2 921.9 L872.7 924.5 L874.4 927.0 L876.1 929.6 L877.8 932.1 L879.6 934.6 L881.5 937.1 L883.4 939.5 L885.4 941.9 L887.4 944.2 L889.5 946.5 L891.6 948.8 L893.8 951.0 L896.0 953.2 L898.3 955.4 L900.6 957.5 L903.0 959.5 L905.3 961.5 L907.7 963.5 L910.2 965.3 L912.6 967.2 L915.1 969.0 L917.7 970.7 L920.2 972.4 L922.8 974.0 L925.4 975.6 L928.0 977.1 L930.6 978.5 L933.2 979.9 L935.9 981.2 L938.6 982.5 L941.3 983.8 L944.0 984.9 L946.7 986.1 L949.5 987.2 L952.2 988.2 L955.0 989.2 L957.8 990.1 L960.6 991.0 L963.5 991.8 L966.3 992.6 L969.1 993.3 L972.0 994.0 L974.9 994.7 L977.8 995.3 L980.7 995.8 L983.6 996.4 L986.5 996.8 L989.4 997.3 L992.3 997.7 L995.3 998.0 L998.2 998.3 L1001.2 998.6 L1004.1 998.8 L1007.1 999.0 L1010.1 999.2 L1013.1 999.3 L1016.1 999.4 L1019.1 999.5 L1022.0 999.5 L1025.0 999.5 L1028.0 999.4 L1031.0 999.4 L1034.1 999.2 L1037.1 999.1 L1040.1 998.9 L1043.1 998.7 L1046.1 998.5 L1049.1 998.2 L1052.1 997.9 L1055.1 997.6 L1058.1 997.3 L1061.1 996.9 L1064.1 996.5 L1067.1 996.1 L1070.1 995.7 L1073.1 995.2 L1076.0 994.7 L1079.0 994.2 L1082.0 993.7 L1084.9 993.1 L1087.9 992.5 L1090.8 991.9 L1093.8 991.3 L1096.7 990.7 L1099.6 990.0 L1102.6 989.3 L1105.5 988.6 L1108.4 987.9 L1111.3 987.2 L1114.2 986.4 L1117.0 985.6 L1119.9 984.8 L1122.8 983.9 L1125.6 983.0 L1128.5 982.2 L1131.3 981.2 L1134.1 980.3 L1137.0 979.3 L1139.8 978.3 L1142.6 977.3 L1145.4 976.3 L1148.1 975.2 L1150.9 974.2 L1153.7 973.1 L1156.4 971.9 L1159.1 970.8 L1161.9 969.6 L1164.6 968.4 L1167.3 967.1 L1170.0 965.9 L1172.7 964.6 L1175.3 963.3 L1178.0 962.0 L1180.6 960.6 L1183.3 959.2 L1185.9 957.8 L1188.5 956.4 L1191.1 954.9 L1193.7 953.4 L1196.2 951.9 L1198.8 950.3 L1201.3 948.8 L1203.8 947.2 L1206.3 945.5 L1208.8 943.9 L1211.3 942.2 L1213.8 940.5 L1216.2 938.8 L1218.7 937.0 L1221.1 935.2 L1223.5 933.4 L1225.9 931.6 L1228.3 929.7 L1230.6 927.8 L1233.0 925.9 L1235.3 923.9 L1237.6 921.9 L1239.9 919.9 L1242.2 917.8 L1244.4 915.8 L1246.7 913.7 L1248.9 911.5 L1251.1 909.4 L1253.3 907.2 L1255.4 905.0 L1257.5 902.8 L1259.7 900.5 L1261.7 898.2 L1263.8 895.9 L1265.9 893.6 L1267.9 891.3 L1269.8 888.9 L1271.8 886.5 L1273.7 884.1 L1275.6 881.6 L1277.5 879.2 L1279.3 876.7 L1281.2 874.2 L1282.9 871.7 L1284.7 869.2 L1286.4 866.6 L1288.1 864.1 L1289.7 861.5 L1291.3 858.9 L1292.9 856.3 L1294.4 853.6 L1295.9 851.0 L1297.3 848.3 L1298.8 845.7 L1300.1 843.0 L1301.5 840.3 L1302.7 837.6 L1304.0 834.8 L1305.2 832.1 L1306.4 829.3 L1307.5 826.6 L1308.5 823.8 L1309.6 821.0 L1310.5 818.3 L1311.4 815.5 L1312.3 812.7 L1313.2 809.9 L1313.9 807.0 L1314.7 804.2 L1315.3 801.4 L1315.9 798.6 L1316.5 795.7 L1317.0 792.9 L1317.5 790.0 L1317.9 787.2 L1318.2 784.3 L1318.5 781.5 L1318.8 778.6 L1318.9 775.8 L1319.0 772.9 L1319.1 770.1 L1319.1 767.2 L1319.0 764.3 L1318.9 761.5 L1318.7 758.6 L1318.4 755.8 L1318.1 752.9 L1317.7 750.1 L1317.2 747.2 L1316.7 744.4 L1316.1 741.5 L1315.5 738.7 L1314.7 735.9 L1313.9 733.1 L1313.1 730.2 L1312.1 727.4 L1311.1 724.6 L1310.0 721.9 L1308.9 719.1 L1307.7 716.3 L1306.4 713.6 L1305.0 710.8 L1303.6 708.1 L1302.1 705.5 L1300.6 702.8 L1299.0 700.2 L1297.3 697.5 L1295.6 695.0 L1293.9 692.4 L1292.0 689.9 L1290.2 687.4 L1288.2 685.0 L1286.3 682.6 L1284.2 680.3 L1282.2 678.0 L1280.0 675.7 L1277.9 673.5 L1275.7 671.3 L1273.4 669.2 L1271.1 667.1 L1268.8 665.1 L1266.4 663.2 L1264.0 661.3 L1261.6 659.5 L1259.1 657.7 L1256.6 656.0 L1254.1 654.4 L1251.5 652.9 L1248.9 651.4 L1246.3 650.0 L1243.6 648.7 L1240.9 647.4 L1238.2 646.2 L1235.5 645.1 L1232.8 644.0 L1230.0 643.0 L1227.2 642.0 L1224.5 641.0 L1221.7 640.1 L1218.9 639.1 L1216.1 638.2 L1213.3 637.3 L1210.5 636.3 L1207.6 635.4 L1204.8 634.4 L1202.0 633.4 L1199.3 632.3 L1196.5 631.3 L1193.7 630.1 L1190.9 628.9 L1188.2 627.6 L1185.5 626.3 L1182.8 624.9 L1180.1 623.3 L1177.4 621.7 L1174.8 620.0 L1172.2 618.2 L1169.7 616.2 L1167.2 614.2 L1164.7 612.0 L1162.4 609.8 L1160.2 607.5 L1158.1 605.1 L1156.1 602.6 L1154.2 600.1 L1152.6 597.6 L1151.1 594.9 L1149.8 592.3 L1148.7 589.6 L1147.8 586.8 L1147.2 584.1 L1146.8 581.3 L1146.6 578.5 L1146.7 575.7 L1147.0 573.0 L1147.5 570.2 L1148.2 567.5 L1149.1 564.7 L1150.1 562.1 L1151.3 559.5 L1152.6 556.9 L1154.0 554.4 L1155.5 552.0 L1157.1 549.7 L1158.8 547.4 L1160.6 545.2 L1162.5 543.0 L1164.4 540.9 L1166.5 538.9 L1168.6 536.9 L1170.8 535.0 L1173.1 533.2 L1175.4 531.4 L1177.8 529.6 L1180.3 527.9 L1182.8 526.3 L1185.3 524.7 L1187.9 523.2 L1190.6 521.7 L1193.3 520.2 L1196.1 518.8 L1198.8 517.5 L1201.6 516.1 L1204.5 514.9 L1207.3 513.6 L1210.2 512.4 L1213.1 511.2 L1216.0 510.1 L1218.9 509.0 L1221.8 507.9 L1224.7 506.9 L1227.6 505.9 L1230.6 504.9 L1233.5 503.9 L1236.4 503.0 L1239.3 502.1 L1242.2 501.2 L1245.2 500.4 L1248.1 499.6 L1251.0 498.8 L1253.9 498.0 L1256.9 497.3 L1259.8 496.6 L1262.7 495.9 L1265.6 495.2 L1268.6 494.6 L1271.5 493.9 L1274.4 493.3 L1277.3 492.7 L1280.3 492.2 L1283.2 491.7 L1286.1 491.1 L1289.1 490.6 L1292.0 490.2 L1294.9 489.7 L1297.9 489.3 L1300.8 488.8 L1303.8 488.4 L1306.7 488.1 L1309.7 487.7 L1312.6 487.3 L1315.5 487.0 L1318.5 486.7 L1321.4 486.4 L1324.4 486.1 L1327.4 485.8 L1330.3 485.5 L1333.3 485.3 L1336.2 485.1 L1339.2 484.8 L1342.2 484.6 L1345.1 484.4 L1348.1 484.2 L1351.1 484.1 L1354.0 483.9 L1357.0 483.7 L1360.0 483.6 L1363.0 483.4 L1366.0 483.3 L1368.9 483.2 L1371.9 483.1 L1374.9 483.0 L1377.9 482.9 L1380.9 482.8 L1383.9 482.7 L1386.9 482.6 L1389.9 482.5 L1392.9 482.5 L1395.9 482.4 L1398.9 482.4 L1401.9 482.3 L1404.9 482.3 L1407.9 482.3 L1411.0 482.3 L1414.0 482.3 L1417.0 482.3 L1420.0 482.3 L1423.0 482.4 L1426.0 482.4 L1429.0 482.5 L1432.1 482.5 L1435.1 482.6 L1438.1 482.7 L1441.1 482.8 L1444.1 482.9 L1447.1 483.0 L1450.2 483.1 L1453.2 483.3 L1456.2 483.4 L1459.2 483.6 L1462.2 483.8 L1465.2 484.0 L1468.2 484.2 L1471.3 484.4 L1474.3 484.6 L1477.3 484.9 L1480.3 485.2 L1483.3 485.4 L1486.3 485.7 L1489.3 486.0 L1492.3 486.3 L1495.3 486.7 L1498.2 487.0 L1501.2 487.4 L1504.2 487.8 L1507.2 488.2 L1510.2 488.6 L1513.2 489.0 L1516.1 489.5 L1519.1 489.9 L1522.1 490.4 L1525.0 490.9 L1528.0 491.4 L1530.9 492.0 L1533.9 492.5 L1536.8 493.1 L1539.8 493.7 L1542.7 494.3 L1545.7 494.9 L1548.6 495.5 L1551.5 496.2 L1554.4 496.8 L1557.3 497.5 L1560.3 498.3 L1563.2 499.0 L1566.1 499.7 L1569.0 500.5 L1571.8 501.3 L1574.7 502.1 L1577.6 503.0 L1580.5 503.8 L1583.3 504.7 L1586.2 505.6 L1589.0 506.5 L1591.9 507.5 L1594.7 508.4 L1597.5 509.4 L1600.4 510.4 L1603.2 511.4 L1606.0 512.5 L1608.8 513.5 L1611.6 514.6 L1614.3 515.7 L1617.1 516.8 L1619.9 518.0 L1622.6 519.1 L1625.4 520.3 L1628.1 521.5 L1630.8 522.7 L1633.5 524.0 L1636.2 525.3 L1638.9 526.6 L1641.6 527.9 L1644.3 529.2 L1646.9 530.5 L1649.6 531.9 L1652.2 533.3 L1654.8 534.7 L1657.5 536.2 L1660.1 537.6 L1662.6 539.1 L1665.2 540.6 L1667.8 542.1 L1670.3 543.6 L1672.9 545.2 L1675.4 546.8 L1677.9 548.4 L1680.4 550.0 L1682.8 551.6 L1685.3 553.3 L1687.8 555.0 L1690.2 556.7 L1692.6 558.4 L1695.1 560.1 L1697.5 561.9 L1699.9 563.7 L1702.3 565.4 L1704.6 567.2 L1707.0 569.0 L1709.4 570.8 L1711.8 572.7 L1714.2 574.5 L1716.5 576.3 L1718.9 578.2 L1721.3 580.0 L1723.6 581.9 L1726.0 583.7 L1728.4 585.6 L1730.8 587.4 L1733.1 589.3 L1735.5 591.1 L1737.9 593.0 L1740.3 594.9 L1742.7 596.7 L1745.1 598.6 L1747.6 600.4 L1750.0 602.2 L1752.5 604.1 L1754.9 605.9 L1757.4 607.7 L1759.9 609.5 L1762.4 611.3 L1764.9 613.0 L1767.5 614.8 L1770.0 616.6 L1772.6 618.3 L1775.2 620.0 L1777.7 621.8 L1780.3 623.5 L1782.8 625.3 L1785.2 627.1 L1787.6 629.0 L1789.9 630.9 L1792.1 632.9 L1794.2 634.9 L1796.2 637.1 L1798.0 639.3 L1799.7 641.7 L1801.3 644.1 L1802.6 646.7 L1803.8 649.4 L1804.7 652.1 L1805.5 655.0 L1806.1 657.8 L1806.5 660.8 L1806.7 663.7 L1806.6 666.6 L1806.4 669.5 L1805.9 672.3 L1805.2 675.1 L1804.2 677.9 L1803.1 680.5 L1801.7 683.1 L1800.2 685.7 L1798.5 688.1 L1796.7 690.5 L1794.8 692.9 L1792.7 695.1 L1790.5 697.3 L1788.3 699.5 L1785.9 701.5 L1783.6 703.5 L1781.2 705.5 L1778.7 707.3 L1776.3 709.1 L1773.8 710.9 L1771.3 712.5 L1768.7 714.1 L1766.1 715.7 L1763.5 717.2 L1760.9 718.7 L1758.3 720.1 L1755.6 721.4 L1752.9 722.7 L1750.2 724.0 L1747.5 725.2 L1744.7 726.3 L1742.0 727.5 L1739.2 728.6 L1736.4 729.6 L1733.6 730.6 L1730.7 731.6 L1727.9 732.6 L1725.1 733.5 L1722.2 734.4 L1719.3 735.3 L1716.5 736.1 L1713.6 737.0 L1710.7 737.8 L1707.8 738.6 L1704.9 739.3 L1702.0 740.1 L1699.1 740.9 L1696.2 741.6 L1693.3 742.3 L1690.3 743.0 L1687.4 743.7 L1684.5 744.3 L1681.6 745.0 L1678.6 745.6 L1675.7 746.2 L1672.7 746.8 L1669.8 747.4 L1666.8 748.0 L1663.9 748.6 L1660.9 749.1 L1658.0 749.6 L1655.0 750.1 L1652.1 750.6 L1649.1 751.1 L1646.1 751.6 L1643.2 752.0 L1640.2 752.5 L1637.2 752.9 L1634.2 753.3 L1631.3 753.7 L1628.3 754.1 L1625.3 754.4 L1622.3 754.8 L1619.3 755.1 L1616.3 755.4 L1613.3 755.7 L1610.4 756.0 L1607.4 756.3 L1604.4 756.6 L1601.4 756.8 L1598.4 757.0 L1595.4 757.3 L1592.4 757.5 L1589.4 757.6 L1586.4 757.8 L1583.4 758.0 L1580.4 758.1 L1577.4 758.3 L1574.4 758.4 L1571.4 758.5 L1568.4 758.6 L1565.4 758.6 L1562.4 758.7 L1559.4 758.8 L1556.4 758.8 L1553.4 758.8 L1550.4 758.8 L1547.4 758.8 L1544.4 758.8 L1541.4 758.8 L1538.4 758.7 L1535.4 758.7 L1532.5 758.6 L1529.5 758.5 L1526.5 758.4 L1523.5 758.3 L1520.5 758.2 L1517.5 758.1 L1514.5 757.9 L1511.6 757.7 L1508.6 757.6 L1505.6 757.4 L1502.6 757.2 L1499.6 757.0 L1496.7 756.8 L1493.7 756.5 L1490.7 756.3 L1487.7 756.0 L1484.8 755.8 L1481.8 755.5 L1478.8 755.2 L1475.8 754.9 L1472.9 754.6 L1469.9 754.3 L1466.9 754.0 L1463.9 753.7 L1461.0 753.3 L1458.0 753.0 L1455.0 752.6 L1452.0 752.3 L1449.1 751.9 L1446.1 751.5 L1443.1 751.1 L1440.1 750.8 L1437.2 750.4 L1434.2 749.9 L1431.2 749.5 L1428.2 749.1 L1425.2 748.7 L1422.2 748.3 L1419.2 747.8 L1416.3 747.4 L1413.3 746.9 L1410.3 746.5 L1407.3 746.0 L1404.3 745.5 L1401.3 745.0 L1398.3 744.5 L1395.3 744.0 L1392.4 743.5 L1389.4 743.0 L1386.4 742.4 L1383.4 741.8 L1380.5 741.2 L1377.5 740.6 L1374.6 739.9 L1371.6 739.3 L1368.7 738.5 L1365.8 737.8 L1362.9 737.0 L1360.0 736.2 L1357.1 735.4 L1354.2 734.5 L1351.4 733.6 L1348.6 732.7 L1345.7 731.7 L1342.9 730.7 L1340.1 729.6 L1337.4 728.5 L1334.6 727.4 L1331.9 726.2 L1329.1 724.9 L1326.5 723.6 L1323.8 722.3 L1321.1 720.9 L1318.5 719.4 L1315.9 717.9 L1313.3 716.3 L1310.7 714.7 L1308.2 713.0 L1305.7 711.2 L1303.2 709.4 L1300.8 707.5 L1298.4 705.6 L1296.0 703.5 L1293.7 701.5 L1291.4 699.3 L1289.2 697.2 L1287.0 694.9 L1285.0 692.6 L1283.0 690.3 L1281.1 687.9 L1279.4 685.5 L1277.8 683.1 L1276.3 680.7 L1274.9 678.2 L1273.7 675.7 L1272.7 673.1 L1271.8 670.6 L1271.1 668.1 L1270.6 665.5 L1270.3 662.9 L1270.2 660.4 L1270.4 657.8 L1270.7 655.3 L1271.3 652.7 L1272.1 650.2 L1273.2 647.7 L1274.5 645.2 L1276.1 642.8 L1277.9 640.3 L1279.9 637.9 L1282.0 635.6 L1284.4 633.3 L1286.8 631.0 L1289.4 628.8 L1292.0 626.7 L1294.7 624.6 L1297.5 622.6 L1300.3 620.7 L1303.2 618.9 L1306.0 617.1 L1308.8 615.5 L1311.6 613.9 L1314.3 612.4 L1317.0 611.0 L1319.7 609.7 L1322.3 608.5 L1325.0 607.3 L1327.6 606.1 L1330.2 605.0 L1332.8 604.0 L1335.4 603.0 L1338.0 602.0 L1340.6 601.0 L1343.2 600.1 L1345.8 599.2 L1348.5 598.2"/>
<polygon class="m" points="1496.9,1238.4 1492.7,1251.3 1481.8,1259.2 1468.2,1259.2 1457.3,1251.3 1453.1,1238.4 1457.3,1225.5 1468.2,1217.6 1481.8,1217.6 1492.7,1225.5"/>
<polygon class="m" points="1117.1,923.4 1112.9,936.3 1102.0,944.2 1088.4,944.2 1077.5,936.3 1073.3,923.4 1077.5,910.5 1088.4,902.6 1102.0,902.6 1112.9,910.5"/>
<polygon class="m" points="1243.4,849.7 1239.2,862.6 1228.3,870.5 1214.7,870.5 1203.8,862.6 1199.6,849.7 1203.8,836.8 1214.7,828.9 1228.3,828.9 1239.2,836.8"/>
<polygon class="m" points="1371.0,686.5 1366.8,699.4 1355.9,707.3 1342.3,707.3 1331.4,699.4 1327.2,686.5 1331.4,673.6 1342.3,665.7 1355.9,665.7 1366.8,673.6"/>
<polygon class="m" points="1245.0,642.4 1240.8,655.3 1229.9,663.2 1216.3,663.2 1205.4,655.3 1201.2,642.4 1205.4,629.5 1216.3,621.6 1229.9,621.6 1240.8,629.5"/>
<polygon class="m" points="1371.0,598.1 1366.8,611.0 1355.9,618.9 1342.3,618.9 1331.4,611.0 1327.2,598.1 1331.4,585.2 1342.3,577.3 1355.9,577.3 1366.8,585.2"/></g>
<g id="legend"><rect x="936" y="256.3" width="382" height="123.4" fill="#fff" stroke="#262626" stroke-width="2"/><line x1="951.5" y1="289.2" x2="1083.7" y2="289.2" stroke="#ff0000" stroke-width="1.6"/><line x1="951.5" y1="344.1" x2="1083.7" y2="344.1" stroke="#0000ff" stroke-width="1.6"/><text class="lg" x="1095.5" y="306.7">Bezier</text><text class="lg" x="1095.5" y="359.2">3D Dubins</text></g>
</svg>
</body>
</html>
